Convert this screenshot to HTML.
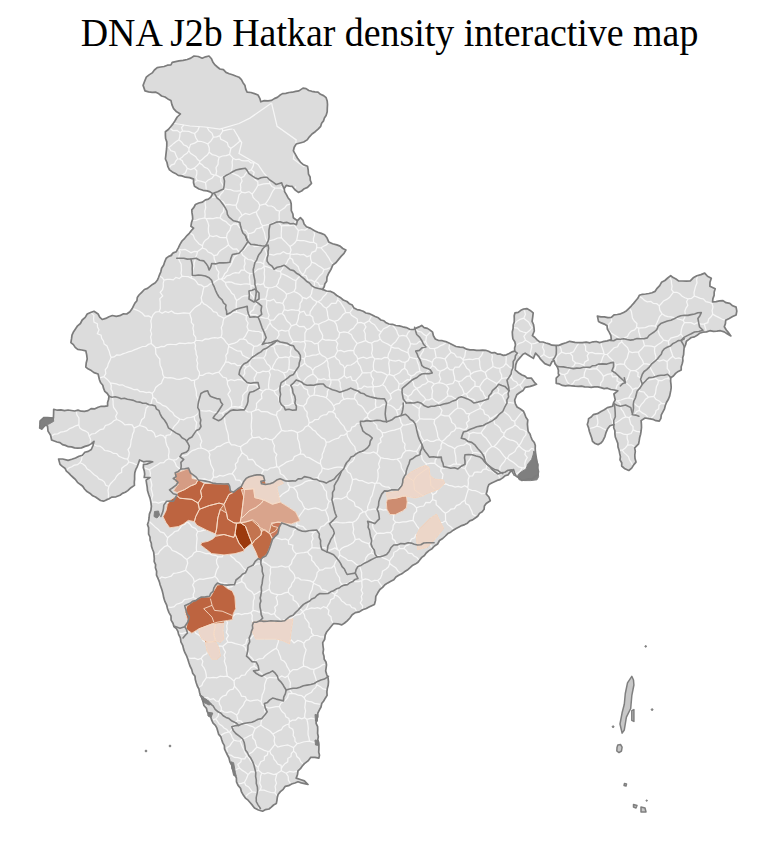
<!DOCTYPE html>
<html><head><meta charset="utf-8"><style>
html,body{margin:0;padding:0;background:#fff;}
body{width:771px;height:841px;overflow:hidden;position:relative;}
.t{position:absolute;left:4px;top:14px;width:771px;text-align:center;font-family:"Liberation Serif",serif;font-size:37.9px;color:#000;line-height:1;white-space:nowrap;transform:scaleY(1.03);transform-origin:50% 0;}
svg{position:absolute;left:0;top:0;}
</style></head><body>
<svg width="771" height="841" viewBox="0 0 771 841">
<path d="M143.1,85.4 144.6,81.3 146.3,77.2 149.1,74.9 152.2,72.9 154.4,70.0 157.2,67.7 160.6,67.0 164.1,66.5 167.4,65.2 170.9,65.0 172.2,62.3 175.6,61.6 179,60.9 183.1,60.4 187.2,59.5 190.8,58.1 194,56.0 198.3,56.5 202.2,58.2 205.5,56.8 209,56.0 211.5,58.8 213,62.3 215,64.9 217.4,67.0 219.9,69.0 223.4,69.7 226,72.4 229.2,73.7 232.5,74.7 235.7,76.0 239,77.2 241.4,79.6 243,82.7 245,85.6 245.7,89.1 247.1,92.2 250.9,92.5 254.5,93.6 258,95.0 259.8,98.3 260.8,101.8 264.3,100.6 268,100.8 271.6,100.4 274.3,98.6 277.3,97.4 279.8,95.3 282.5,93.6 285.8,93.3 289.1,92.5 292.4,92.2 295.6,91.4 298.9,90.9 303,88.1 306.1,88.6 308.8,90.5 311.8,91.3 314.9,91.9 318,92.2 320.5,94.3 323.6,95.6 326.1,97.7 327.2,101.0 327.5,104.5 327.3,108.2 327.2,111.8 326.1,115.4 324.4,117.9 323.5,120.9 321.6,123.3 320.7,126.3 318.1,129.1 315.2,131.7 312,134.0 309.4,136.8 307.1,139.9 303.7,142.0 300,143.0 296.2,144.0 294.2,147.2 293.4,150.8 295.4,154.4 297.4,158.0 300.4,162.1 303.6,164.8 307.5,166.2 308.2,170.2 308.5,174.2 310.1,177.0 310.3,180.3 311.5,183.3 307.5,187.4 304.3,188.7 301.6,191.0 298.4,192.4 294.9,189.8 292.3,186.4 289.3,186.1 286.3,185.4 284.2,188.4 284.6,191.6 286.3,194.4 288,197.7 290.3,200.5 291.2,203.8 291.3,207.2 291.3,210.6 292.9,214.0 293.3,217.7 297.4,220.7 300.4,217.7 303,220.4 304.1,224.0 306.5,226.8 310.7,228.4 314.5,230.8 317.8,232.2 321.3,233.4 324.6,234.8 327.1,238.1 328.7,241.9 332.6,243.7 336.8,244.9 340.1,246.1 342.8,248.5 345.9,250.0 344,253.4 341.3,256.1 338.8,259.1 336.1,262.5 332.7,265.2 331,269.4 328.7,273.2 327,277.1 326.7,281.3 324.9,283.8 324.2,286.8 322.6,289.4 326.5,291.0 330.7,291.4 334,293.1 336.8,295.5 340.2,297.4 343.3,300.0 346.9,301.5 349.3,303.7 352.3,305.1 354,308.1 357,309.6 360.2,310.2 363.2,311.3 365.9,313.0 369.1,313.6 372.2,315.0 375.1,316.5 378.3,317.8 380.9,320.0 383.9,320.8 386.2,322.8 389,324.0 392.5,324.3 395.8,325.5 399.3,325.9 402.7,326.8 406.3,327.6 409.7,329.3 413.5,329.5 416.2,328.1 419,326.9 421.7,325.4 424.1,327.6 427.4,328.4 430.1,330.1 432.6,332.2 433.4,335.8 435.3,339.0 438.6,340.5 442.3,340.7 445.7,341.6 449,343.1 452.5,344.8 456,346.5 459.9,347.2 463.4,347.4 466.6,349.2 470,349.8 473.5,349.9 476.5,350.3 479.5,350.3 482.6,350.1 485.6,350.3 488.5,351.3 491.3,352.8 494.6,352.6 497.4,354.1 500.5,354.2 503.4,355.4 506.4,354.8 509.1,353.4 511.8,351.9 514.7,351.1 514.6,348.0 515.5,345.0 514.8,341.8 512.9,338.9 512.5,335.6 512.3,332.0 513.1,328.5 513.2,325.0 514.2,322.0 514.3,318.9 514.2,315.8 515,312.8 518.2,312.3 520.8,310.3 523.6,309.0 526.8,308.6 530.2,310.4 533.2,312.8 532.7,317.1 532.1,321.4 533.5,324.5 534,327.7 534.3,331.0 532.4,335.6 534.9,337.5 537.1,339.8 539.6,341.8 542.9,342.0 545.9,343.0 549,343.9 552,345.2 555.2,345.4 558.9,345.4 562.4,343.9 566.1,342.8 569.7,341.3 575,342.3 578.7,342.7 582.4,342.7 586.2,342.1 589.9,342.8 593.1,341.8 596.3,341.5 599.6,342.6 602.8,341.7 607.1,340.9 611.3,339.6 610.9,335.7 609.2,332.1 607.4,329.1 607,325.7 604.3,324.1 601.3,322.9 598.5,321.4 597.4,316.1 600.9,316.9 604.4,316.8 607.9,317.6 611.3,317.3 614,314.9 617.3,314.5 620.6,313.8 623.6,312.4 626.6,310.7 629,308.3 631.4,305.8 633.6,303.4 635.7,300.8 637.8,298.3 639.3,295.3 642.4,294.3 645.6,294.0 648.9,293.5 652,292.7 655,291.4 657.1,288.3 659.7,285.6 661.5,282.3 664.9,280.5 667.7,278.0 670.7,275.7 673.2,277.6 676,279.0 678.5,280.9 682.4,281.0 686.4,281.1 690.3,280.9 693.2,277.8 696.9,275.7 700.9,274.6 704.7,273.1 707.5,276.3 711.3,278.3 710,282.2 709.9,286.2 715.2,288.8 714.2,292.0 714.1,295.4 712.9,298.6 712.6,301.9 716.1,301.6 719.5,300.9 723,300.6 726,302.7 729.8,303.3 732.7,305.8 736.1,307.1 736.8,311.1 736.1,315.0 732.6,316.6 729.2,318.5 725.7,320.2 725.4,323.6 724.3,326.8 726.3,330.0 728.7,332.9 730.9,335.9 727.5,334.0 724.2,331.9 720.4,330.7 716.9,331.1 713.4,331.4 709.9,330.7 706.5,331.9 702.9,332.2 699.5,333.3 697.1,335.3 694.5,336.9 691.3,337.5 688.9,339.4 686.4,341.2 685.6,344.7 684.1,348.0 683.8,351.6 683.6,354.7 682.7,357.7 682.9,360.8 682.2,363.8 681.2,366.8 681.2,369.9 678.2,371.4 675.6,373.4 673.4,376.0 670.7,377.8 670.6,381.1 671,384.4 671.2,387.6 670.7,390.9 669.7,395.9 668.4,399.2 666.6,402.2 665.3,405.5 664.5,408.9 662.9,411.9 661.3,414.8 660.9,418.3 659.3,421.2 655.9,420.7 652.8,419.3 648.9,418.7 645,418.0 641.1,420.6 641.4,424.1 641.5,427.5 641.1,431.0 640.6,434.2 639.7,437.4 639.2,440.7 638.6,443.9 634.7,447.8 635.3,451.3 634.8,455.0 635,458.6 636,462.1 633.7,464.9 631.7,468.1 628.8,470.5 624.9,468.8 621.7,466.0 621.7,462.8 620,459.9 620.4,456.6 619.7,453.5 619.1,450.4 618,447.0 617.8,443.4 616.5,440.0 615.3,437.0 614.9,433.9 614.9,430.7 613.7,427.7 613.9,424.5 610,425.8 607.6,428.8 606.1,432.3 604.9,436.6 602.9,440.7 600.9,443.1 598.3,444.6 595.1,443.5 592.5,441.3 591.7,438.0 590.6,434.9 589.4,431.5 588.6,427.9 587.3,424.5 588.2,421.6 588.6,418.6 591.2,417.0 593.2,414.7 597.4,413.7 601,411.5 604.3,409.8 607.4,407.6 612.6,406.3 613.5,402.9 615.2,399.8 613.9,394.0 617.8,390.8 614.3,390.0 610.7,389.5 607.4,388.2 604.1,388.6 600.9,387.6 597.8,386.9 594.5,386.9 591.2,387.3 588,387.0 584.7,386.8 581.5,386.1 578.3,386.3 575,386.2 571.9,385.8 568.7,385.4 565.5,385.8 562.4,385.4 559.4,383.9 556.2,383.3 556.2,378.1 559.3,375.0 558.3,374.0 558.4,370.3 557.3,366.7 555.1,363.9 554.1,360.5 552.1,361.5 550,365.7 544.8,363.6 540.7,359.4 538.6,356.3 535.5,353.2 533.4,358.4 529.2,355.8 525.1,353.2 523,354.2 519.4,358.4 517,361.2 515.8,364.6 515.2,369.8 518.4,372.7 522,375.0 524.9,376.1 527.2,378.1 531.3,378.1 534.4,382.3 536.5,384.3 533.4,385.4 530.3,386.4 525.1,387.4 523,390.6 519.8,392.5 516.8,394.7 514.7,400.0 515.3,403.7 517.1,407.0 520.4,409.0 523.5,411.3 524.8,414.2 525.9,417.3 527.8,419.9 527.4,424.2 527.8,428.5 528.2,431.6 530,434.1 531,437.0 532.2,440.0 534.3,442.5 535.3,445.6 535.2,448.8 535.4,452.0 535.9,455.2 536.4,458.4 536.6,461.7 537.9,464.8 537.4,468.2 538.5,471.3 538,474.9 534.8,476.4 532.5,479.0 528.8,478.8 525.3,479.9 521.7,480.4 519.2,478.0 516.2,476.3 514.6,473.0 513.5,469.5 510.3,471.8 508,474.9 505,475.8 502.7,477.9 500.1,479.6 497.1,480.4 494.4,481.8 491.7,483.0 489,484.4 487.7,487.5 487.2,490.8 486.2,494.0 488.9,497.0 490.3,500.8 486.2,503.5 484.4,506.0 484.1,509.3 482.2,511.7 479.5,513.4 477.7,516.2 475.2,518.0 472.6,519.9 469.7,520.9 467.4,523.2 464.7,524.6 461.7,525.6 459,527.0 456.1,528.5 453.3,530.2 450.7,532.2 447.8,533.6 445.4,536.0 442.7,538.5 439.5,540.5 437.6,544.0 434.5,546.0 432,548.7 428.9,550.6 426.2,553.0 424.4,555.5 421.8,557.4 419.9,559.8 418,562.2 415.3,564.1 412.3,565.6 409.8,567.9 407.3,570.1 404.4,571.8 401.8,573.8 398.7,575.2 395.9,577.0 393.8,579.8 390.8,581.3 387.8,582.9 384.9,584.8 382.6,587.4 379.9,589.5 377.8,592.8 375.8,596.3 375.5,600.4 374.4,604.4 371.7,605.7 369,607.1 366.3,608.5 362.6,609.7 359.3,611.9 355.4,612.6 352.2,614.8 349.9,618.0 347.2,620.8 344.6,623.0 341.8,624.9 337.8,623.8 333.6,623.5 331.3,626.2 329.1,629.0 326.8,631.7 325.2,635.2 324.7,639.2 322.7,642.6 323,646.0 323.5,649.4 323,652.9 324,656.2 324.2,659.3 326,662.0 326.5,665.0 325.7,670.9 326.7,674.5 328.1,678.0 328.5,681.8 328.2,685.2 327.3,688.6 326.9,691.9 327.1,695.4 325.3,698.2 323.7,701.0 321.7,703.6 321,707.0 319.3,710.1 317.8,713.2 317.8,716.8 316.2,719.9 316.1,723.3 317.6,726.6 317.7,730.1 317.6,733.5 318.3,736.6 317.8,739.8 318.6,742.8 318.9,746.0 318.9,749.1 318.7,752.1 319.5,755.2 318.9,758.2 314.9,757.4 310.8,757.3 308,760.9 304.4,763.6 302.3,766.0 300.4,768.7 298,770.9 297.5,774.6 296.2,778.1 300.3,779.5 304.4,780.9 308,784.5 304.6,783.7 301.3,782.9 298,781.8 294.9,783.0 291.6,784.0 288.6,785.7 285.3,786.3 283.2,789.3 280.4,791.6 278.1,794.5 277.3,797.5 276.9,800.6 276.3,803.6 273.6,805.0 271.3,807.1 269,809.0 265.6,809.6 262.6,811.2 258.4,810.0 254.5,808.1 252.5,805.4 250.3,802.8 248.1,800.2 245.4,798.1 243.3,795.1 241.5,791.9 240.5,788.3 238.1,785.4 236.5,781.9 236.4,777.9 234.5,774.5 234.2,771.3 232.2,768.6 231.8,765.4 229.9,761.9 229,758.0 227.2,754.5 225.8,751.7 224.5,748.9 224.4,745.6 222.8,742.9 221.8,740.0 220.9,736.9 218.7,734.4 217.8,731.3 216.9,728.2 215.4,725.4 213.1,723.1 211.7,720.2 210.7,717.1 209.4,714.2 207.2,711.8 206.5,708.3 203.9,705.5 203.1,702.0 202.1,698.5 200.4,695.4 199.5,692.2 198.9,689.0 197.3,686.0 196.2,682.8 195.3,679.6 195,676.3 192.7,673.2 191.7,669.4 190,666.0 188.9,662.7 187.9,659.4 186.7,656.2 184.9,652.7 183.6,649.1 182.7,645.3 180.9,641.8 180.4,637.9 178.6,634.4 177.9,631.3 176.4,628.7 173.9,626.5 173.1,623.5 171.1,620.1 171,616.0 169,612.6 167.6,609.0 166.7,605.2 165,601.7 163.8,598.1 163.1,594.4 162.2,590.8 161.2,587.7 160.1,584.7 159.3,581.6 158.1,578.6 156.5,575.1 156.6,571.3 155.4,567.7 155.6,564.6 154.2,561.6 154.3,558.5 154,555.4 153.7,552.3 152.5,549.3 151.5,546.3 151.3,543.2 150.1,540.2 150,537.0 148.6,534.1 148.6,530.9 148.6,527.6 147.5,524.6 148.6,521.2 149.1,517.7 149.4,514.1 150.9,510.3 151.4,506.3 150.9,502.3 150.1,498.4 148.7,494.5 147.5,490.6 147.2,487.1 146.6,483.6 146.1,480.1 150,477.5 144.2,477.5 144.7,474.2 144.3,470.9 143.3,467.7 143.5,464.4 146.7,464.1 149.7,463.0 152.7,461.8 149.6,461.4 146.6,461.3 143.5,461.8 139.6,459.9 138.4,463.5 137,467.1 135.7,469.7 134.8,472.8 134.6,475.9 134.6,479.1 134.3,482.2 134.4,485.4 130.9,487.7 127.8,490.6 125.3,492.3 122.4,493.4 120,495.2 116,496.8 111.7,497.1 109.1,498.7 106.3,499.9 103.5,501.2 100.5,500.5 98,498.7 95.5,497.0 92.7,495.8 90.1,493.4 87,491.6 84.5,489.0 82.7,486.2 80.1,484.3 77.5,482.3 75.6,479.7 73.2,477.5 70.9,475.3 68.8,473.1 66.4,471.1 64.9,468.2 62.3,466.4 60,464.4 58.6,459.0 62.7,459.0 68.1,460.4 71.8,459.3 75.5,458.0 79,456.3 82.4,455.2 84.8,452.3 88.3,451.4 91.3,449.5 93,445.5 94,441.3 91.5,443.6 88.6,445.4 85,446.4 81.5,447.9 77.7,448.1 74.5,447.9 71.5,446.9 68.3,446.7 65.4,445.4 62.5,444.6 60,442.6 57,442.0 51.6,440.0 50.6,435.3 48,431.1 47.5,425.9 45.4,424.9 41.7,429.1 39.7,428.0 40,424.4 40.2,420.8 44,417.5 47.5,417.6 53.4,418.2 53.6,413.8 53.7,409.3 57.3,410.2 60.9,409.8 64.5,410.6 68.1,410.0 71.4,410.5 74.6,411.0 78,410.1 81.2,411.2 84.5,411.3 88,410.6 91.1,408.6 94.9,408.8 98.1,407.2 101.2,406.3 104.4,406.3 107.6,405.9 107.6,402.6 108.5,399.5 109,396.3 107.3,393.5 104.8,391.3 103.5,388.2 102.8,385.2 100.7,382.8 99.5,380.0 98.8,377.0 98.1,374.0 94,372.6 91.3,370.6 88.4,369.1 85.8,367.1 86.2,363.0 87.2,359.0 86.7,354.9 85.8,350.8 81.8,350.0 77.7,349.4 75.2,347.4 73.4,344.6 70.9,342.6 71.5,338.9 72,335.2 73.6,331.7 75.6,328.7 77.6,325.8 80.4,323.5 82.2,320.0 85.2,317.4 87.2,314.0 90.5,312.5 94,311.3 98.1,314.0 99.7,317.1 102.2,319.5 105.7,318.4 109,316.7 112.4,315.5 116.2,316.3 119.7,315.7 123.1,313.9 126.7,314.0 129.9,311.7 132.2,308.6 133.5,305.8 134.9,303.1 136.9,300.8 137.3,297.5 139,295.0 141.7,292.3 144.4,289.5 147.5,288.4 150,286.4 152.5,284.4 155.3,282.7 157.3,280.3 158.5,277.5 159.6,274.6 160.8,271.8 161.6,268.2 163.7,265.1 164.8,261.6 166.2,258.2 168.7,256.4 171.6,255.4 170.9,255.3 173.2,252.9 176.3,251.7 178.2,248.1 180,244.4 182,241.0 184.7,238.3 187.2,235.3 189.5,233.1 191.4,230.5 193.6,228.1 190.9,226.3 191.5,222.6 192.7,219.0 192.5,216.0 192,212.9 191.8,209.9 193.9,207.4 195.4,204.5 198.8,203.0 202.4,202.1 205.4,199.9 208.4,199.2 210.8,197.2 212.7,193.6 210.1,191.9 207.2,190.9 203,190.3 199,189.0 194.5,186.3 193.5,182.8 193.6,179.1 189.6,177.6 185.4,177.2 181.9,175.9 178.2,175.4 175.4,173.4 172.3,171.9 169.5,169.9 167.8,166.4 167,162.5 165.4,159.0 165.8,155.6 166.2,152.2 166.6,148.7 166.8,145.3 166.8,141.9 165.6,138.5 165.4,135.1 165.4,131.7 168.3,129.5 170.7,126.7 173,123.9 175,120.8 177.2,117.0 180.4,114.0 176.6,111.8 173.6,108.6 171.9,104.6 170.9,100.4 167.8,98.9 165,97.0 161.6,96.0 158.9,93.8 155.9,92.2 152.2,92.4 148.6,91.9 145,90.9Z" fill="#dcdcdc"/><path d="M222.2,129.0 222.8,131.0M207.0,127.3 209.0,130.6 212.1,133.3 213.4,137.2M222.8,131.0 219.8,135.6M219.8,135.6 216.7,136.9 213.4,137.2M232.6,129.0 229.2,129.4 226.0,130.1 222.8,131.0M51.6,435.9 54.4,434.2 57.7,433.8 60.6,432.2 63.9,431.7 67.0,430.7 69.7,428.6 72.8,427.4 75.6,425.8 78.8,424.9M76.4,411.5 76.9,414.8 78.9,418.0 79.0,421.4 78.8,424.9M213.0,719.9 215.7,718.8M220.7,735.4 224.5,733.2 228.7,732.0M228.7,732.0 226.8,729.5 224.0,728.0 221.9,725.7 219.2,724.0 217.5,721.3 215.7,718.8M632.4,465.1 631.2,462.3 629.4,459.8 628.5,456.8 626.4,454.6 624.1,452.6 622.2,450.2M634.8,446.6 631.4,444.8 627.6,445.2M622.2,450.2 625.3,448.0 627.6,445.2M194.6,133.5 191.6,132.6 188.7,131.3 185.6,131.2 182.6,130.8M194.6,133.5 195.7,137.5 197.9,141.1M197.9,141.1 194.6,143.1 190.6,144.4 189.0,148.6M189.0,148.6 186.7,146.1 183.6,144.7 181.5,141.9 178.9,139.8M178.9,139.8 179.8,136.3 180.1,132.7M180.1,132.7 182.6,130.8M183.8,125.0 181.6,127.6 182.6,130.8M199.4,126.6 197.7,130.6 194.6,133.5M207.8,144.0 204.7,142.5 201.4,141.5 197.9,141.1M207.8,144.0 211.0,140.9 213.4,137.2M169.7,128.0 172.8,130.5 177.0,130.3 180.1,132.7M167.4,147.5 168.9,147.6M168.9,147.6 171.4,145.6 173.7,143.4 176.2,141.4 178.9,139.8M234.1,770.5 239.5,768.0M238.4,783.6 241.5,783.4 244.5,782.3M239.5,768.0 242.3,770.4 245.4,772.2 248.1,774.6M244.5,782.3 246.5,778.6 248.1,774.6M245.5,796.6 248.5,793.7 252.3,791.8M244.5,782.3 245.7,785.3 248.6,786.9 250.5,789.3 252.3,791.8M258.6,808.8 258.5,805.5 256.7,802.5 256.2,799.2 257.0,795.8 256.6,792.5M256.6,792.5 252.3,791.8M665.6,403.9 661.6,403.3M661.6,403.3 658.9,405.2 658.7,408.8 656.1,410.6 655.3,413.7 653.3,416.0 651.1,418.2M627.6,445.2 628.2,441.7 627.1,438.2 627.2,434.7M640.1,431.8 636.5,431.3 633.1,429.9M627.2,434.7 631.1,433.5 633.1,429.9M177.7,158.8 179.5,159.0M168.9,147.6 170.8,150.7 174.8,152.0 176.1,155.6 177.7,158.8M189.0,148.6 188.9,150.7M179.5,159.0 182.1,157.2 184.3,154.9 187.0,153.3 188.9,150.7M209.2,152.2 207.3,155.0 204.7,157.0 202.4,159.2 199.8,161.2M209.2,152.2 209.3,148.0 207.8,144.0M188.9,150.7 190.5,153.4 193.2,155.0 195.8,156.7 197.4,159.3 199.8,161.2M622.2,450.2 619.9,450.2M151.2,343.5 148.3,344.4 145.8,346.3 142.6,346.5 139.8,347.7 137.0,348.8 134.2,349.9 131.4,351.2 128.4,351.9 125.6,353.0 122.7,353.9 120.0,355.2 116.7,355.0 114.1,356.9 111.1,357.4M151.2,343.5 151.3,340.3 150.6,337.0 151.6,333.9 150.5,330.6 151.4,327.4 151.3,324.2 150.8,321.0 151.7,317.8M151.7,317.8 148.7,315.9 144.8,316.0 142.3,313.3 139.4,311.3 136.3,309.9 133.0,308.7M111.1,357.4 110.0,354.6 109.3,351.6 108.1,348.8 107.0,346.0 104.1,344.0 103.5,340.9 101.7,338.4 101.1,335.3 97.4,333.7 99.0,329.7 97.5,327.0 97.4,323.8 94.0,322.0 93.6,318.8 93.9,315.4 91.5,313.1M103.8,376.6 105.8,373.7 105.3,369.8 107.5,367.0 108.3,363.7 109.9,360.6 111.1,357.4M99.8,377.8 103.8,376.6M103.8,376.6 107.3,379.4 110.3,382.8M110.3,382.8 113.3,383.3 116.4,383.8 119.3,385.0 122.5,384.8 125.3,386.5 128.3,387.3 131.2,388.4 134.0,389.7 137.3,389.5 139.9,391.6 143.1,391.6 146.1,392.6 149.4,392.1 152.3,393.3M155.3,347.3 155.7,350.5 155.8,353.7 157.5,356.4 159.8,359.0 159.8,362.3 160.2,365.4 161.5,368.2 162.5,371.2 162.7,374.4 164.2,377.2M155.3,347.3 151.2,343.5M152.3,393.3 154.4,390.8 155.7,387.5 158.3,385.3 161.4,383.4 162.6,380.1 164.2,377.2M179.5,159.0 182.3,160.7 183.4,163.7 185.8,165.7 187.2,168.4M187.2,168.4 190.8,169.6 194.3,168.1M199.8,161.2 199.5,163.1M194.3,168.1 197.0,165.7 199.5,163.1M239.5,768.0 237.8,764.5 241.0,761.8 241.2,758.6M241.2,758.6 237.9,757.6 234.3,757.4 231.4,755.4 228.1,754.5M241.2,758.6 244.8,758.8 246.7,755.6M248.1,774.6 250.9,771.7 255.1,771.9 258.4,770.3M258.4,770.3 258.1,767.4M258.1,767.4 255.7,765.2 252.9,763.3 250.6,760.9 248.9,758.0 246.7,755.6M277.0,773.6 276.1,776.7 275.4,779.9 276.5,783.3 275.1,786.4 275.7,789.8 274.9,792.9M277.0,773.6 273.9,774.6 270.9,773.6 267.8,772.7 264.7,773.8 261.7,773.1M261.7,773.1 260.5,776.4 260.4,779.8 259.7,783.1 261.3,786.7 260.3,790.0M274.9,792.9 271.2,792.5 267.6,791.5 264.1,790.1 260.3,790.0M256.6,792.5 260.3,790.0M258.4,770.3 261.7,773.1M277.1,795.6 274.9,792.9M669.9,379.3 668.0,378.5M653.9,396.4 655.5,393.4 655.9,390.0 656.4,386.7 657.9,383.7 658.5,380.4M661.6,403.3 659.1,400.9 655.9,399.3 653.9,396.4M668.0,378.5 664.8,379.0 661.9,380.7 658.5,380.4M672.8,356.3 671.9,353.3 670.8,350.3 670.1,347.2 668.7,344.3 668.4,341.1M672.8,356.3 675.4,358.6 679.0,357.8 681.9,359.0M686.2,340.4 683.3,337.4 680.9,334.0M668.4,341.1 670.8,338.1 674.4,337.1 678.0,336.1 680.9,334.0M668.0,378.5 668.9,375.1 669.5,371.6 667.2,368.4 667.3,365.0 667.1,361.6M667.1,361.6 669.8,358.8 672.8,356.3M713.0,302.7 712.1,303.6M697.4,276.4 696.6,279.6 697.0,283.0 695.6,286.2 694.8,289.4 694.0,292.6 694.3,296.0M694.3,296.0 697.3,297.2 700.3,298.4 703.5,299.0 705.9,301.6 709.1,302.3 712.1,303.6M706.2,330.8 705.2,327.4 704.2,323.9M680.9,334.0 681.3,330.0 682.4,326.2 684.4,322.7M684.4,322.7 687.8,322.7 691.1,322.6 694.3,324.2 697.7,322.4 700.9,324.1 704.2,323.9M724.9,320.2 721.7,319.0 718.7,317.4 715.6,315.9 712.7,314.1M704.2,323.9 707.8,322.7 708.6,319.1 711.0,316.8 712.7,314.1M712.7,314.1 712.1,310.6 713.0,307.0 712.1,303.6M617.2,400.9 621.0,400.0 624.8,398.6 628.7,397.8M617.2,400.9 619.8,402.9 620.8,405.8 621.1,409.1 623.1,411.4 624.4,414.2 625.8,416.9M628.7,397.8 632.8,398.7 633.9,402.8 636.3,405.5 639.4,407.6M625.8,416.9 629.0,417.7M629.0,417.7 631.5,415.7 634.6,414.7 636.3,411.7 639.3,410.4M639.4,407.6 639.3,410.4M633.1,429.9 633.0,426.5 630.6,423.9 629.9,420.8 629.0,417.7M648.3,417.7 645.7,414.8 642.3,412.9 639.3,410.4M648.5,397.2 653.9,396.4M648.5,397.2 645.5,399.2 643.6,402.1 641.2,404.6 639.4,407.6M290.6,783.6 288.4,780.4 288.2,776.4 286.1,773.2M297.1,771.2 293.5,772.2 289.5,771.4 286.1,773.2M277.0,773.6 281.3,770.8M286.1,773.2 281.3,770.8M627.2,434.7 623.4,434.1 619.9,432.5 616.0,432.5M625.8,416.9 622.5,418.2 619.8,420.3 616.8,422.2 613.7,423.7M615.8,400.5 617.2,400.9M612.8,424.0 612.3,420.7 610.7,417.8 610.4,414.4 608.7,411.6 607.3,408.6M127.6,459.2 124.5,458.6 121.7,457.5 118.9,456.2 116.7,453.5 113.4,453.4 110.8,451.7 107.8,450.8 104.6,450.5 102.4,447.9 99.8,446.1 96.5,446.0 93.8,444.5M90.3,443.1 90.0,442.9M127.6,459.2 128.8,456.2 129.3,453.0 128.0,449.5 130.2,446.7 130.8,443.6 131.1,440.4 132.1,437.4 132.6,434.2 134.0,431.3 134.1,428.1M116.8,419.5 113.8,420.8 111.4,423.1 108.6,424.6 105.4,425.5 103.6,428.9 100.3,429.6 97.6,431.5 95.1,433.5 91.6,434.0 89.1,436.1M116.8,419.5 119.7,420.8 122.5,422.5 124.9,424.9 128.7,424.4 132.1,424.9 134.1,428.1M89.1,436.1 90.6,439.4 90.0,442.9M110.3,382.8 111.3,385.7 111.0,388.9 112.4,391.8 112.9,394.9 112.6,398.1 113.1,401.2 113.1,404.4 113.6,407.4 115.6,410.2 117.3,413.1 115.6,416.5 116.8,419.5M78.8,424.9 79.9,428.1 82.4,429.9 85.6,431.1 88.2,432.8 89.1,436.1M66.6,469.9 69.0,467.9 71.8,466.7 74.3,465.1 77.5,464.7 79.9,462.7M79.9,462.7 81.5,460.0 82.0,456.7 84.2,454.3M89.7,443.6 90.0,442.9M79.9,462.7 82.9,464.0 85.3,466.0 87.0,468.8 89.7,470.4 92.0,472.6 94.2,474.8 97.0,476.4 98.9,478.9 102.0,480.1 104.4,482.1 105.8,485.3 108.9,486.5M127.6,459.2 128.9,462.0M128.9,462.0 127.0,464.5 124.2,466.3 121.7,468.4 121.6,472.3 118.6,474.0 116.5,476.3 115.0,479.2 112.7,481.4 110.5,483.7 108.9,486.5M108.9,486.5 108.0,490.3 108.5,494.1 108.3,497.9M154.6,554.5 158.1,553.9 159.9,551.0 162.2,548.8 164.5,546.6 167.6,545.4M167.6,545.4 166.9,541.6 167.7,537.8M167.7,537.8 165.7,535.4 163.8,532.8 160.4,531.9 158.3,529.5 155.8,527.6 153.5,525.4 151.2,523.2 149.0,521.1M238.4,137.1 239.8,141.3M219.8,135.6 220.8,139.2 224.2,140.7 227.3,142.6 228.3,146.1 230.8,148.5M230.8,148.5 233.9,146.2 236.9,143.8 239.8,141.3M209.2,152.2 212.2,154.6 215.9,155.5 219.1,157.3M230.8,148.5 229.6,154.3M219.1,157.3 222.5,156.0 226.2,155.6 229.6,154.3M229.6,154.3 233.0,158.2M233.0,158.2 235.9,159.7 239.1,159.2 241.9,160.7 245.0,160.9 248.2,160.6 250.8,162.8 254.0,162.7M239.8,141.3 241.0,141.4M254.5,162.4 254.0,162.7M199.5,163.1 202.2,164.8 204.4,167.2 207.5,168.4 209.6,170.9 211.2,174.1 214.5,175.1M219.1,157.3 218.2,160.8 218.1,164.4 216.0,167.7 216.6,171.4 215.8,174.9M214.5,175.1 215.8,174.9M188.2,658.1 191.4,658.3 194.7,658.1 197.9,659.6 201.1,658.3M201.1,658.3 202.8,661.3 201.9,665.0 204.0,667.9 205.4,670.9 206.1,674.2 206.4,677.5M198.9,687.0 201.8,685.5 202.9,682.5 204.7,680.1 206.4,677.5M228.7,732.0 229.4,732.1M227.1,752.1 226.8,747.9 229.9,745.7 231.7,742.8 233.9,740.1M229.4,732.1 231.2,734.6 232.2,737.5 233.9,740.1M246.7,755.6 246.7,755.5M246.7,755.5 245.0,752.7 244.0,749.8 242.4,747.0 241.2,744.1 240.1,741.1M233.9,740.1 236.9,741.0 240.1,741.1M641.4,381.1 640.3,384.7 638.5,388.0M641.4,381.1 640.7,378.0 637.8,376.2 638.1,372.5 635.2,370.7M625.0,381.5 627.4,379.3 628.4,376.3 629.3,373.3 630.6,370.5M625.0,381.5 627.7,384.1 630.5,386.6 632.7,389.6M632.7,389.6 635.4,388.2 638.5,388.0M635.2,370.7 630.6,370.5M658.5,380.4 655.7,378.5M655.7,378.5 652.2,379.4 648.6,380.0 645.1,381.0 641.4,381.1M648.5,397.2 646.1,394.8 644.0,392.0 639.9,391.4 638.5,388.0M619.6,382.6 625.0,381.5M615.8,389.5 617.0,385.6 619.6,382.6M628.7,397.8 630.2,395.1 632.0,392.6 632.7,389.6M667.1,361.6 663.4,359.8 659.2,361.1 655.5,359.5M655.7,378.5 654.4,375.0 652.4,371.8 650.7,368.5 650.0,364.7M655.5,359.5 652.7,362.1 650.0,364.7M663.7,340.1 661.0,342.8 657.7,344.7 654.8,347.1M668.4,341.1 663.7,340.1M655.5,359.5 655.9,356.4 654.9,353.3 654.5,350.3 654.8,347.1M635.2,370.7 638.3,368.7 641.0,366.2 643.7,363.8M643.7,363.8 646.9,363.9 650.0,364.7M673.5,292.2 676.9,292.3 679.7,293.8 682.1,296.3 684.9,297.8 687.9,298.9M673.5,292.2 671.4,294.8 669.4,297.5 666.7,299.4 663.6,300.9 661.4,303.5 659.2,305.9M687.9,298.9 686.6,301.8 687.8,305.3 686.0,308.1 684.9,311.1 685.2,314.4 684.8,317.5 683.2,320.4M683.2,320.4 680.2,319.5 677.1,318.6 674.1,317.7 671.0,316.9 667.8,316.6 664.8,315.6 662.1,313.8M659.2,305.9 659.8,310.2 662.1,313.8M694.3,296.0 691.5,298.4 687.9,298.9M684.4,322.7 683.2,320.4M663.7,340.1 661.6,337.5 659.5,335.0 658.5,331.8 657.4,328.7 655.3,326.2M655.3,326.2 656.9,323.1 658.3,319.8 659.6,316.5 662.1,313.8M636.6,327.3 638.8,328.2M636.6,327.3 634.6,329.9 631.4,331.1 629.1,333.4 627.5,336.5 624.4,337.8 621.8,339.7M638.8,328.2 638.6,331.5 639.6,334.4 640.2,337.4 642.9,339.7 643.7,342.6 644.5,345.6M621.8,339.7 621.8,341.8M621.8,341.8 624.5,344.8 627.5,347.5 629.0,351.3M629.0,351.3 632.1,352.5 635.3,352.2 638.5,352.0M638.5,352.0 641.7,349.0 644.5,345.6M629.6,308.4 631.3,311.3 631.9,314.7 632.4,318.1 634.3,321.0 636.9,323.6 636.6,327.3M639.4,296.5 642.1,298.1 644.5,300.4 647.2,301.9 650.9,301.5 653.4,303.4 656.8,303.7 659.2,305.9M655.3,326.2 651.8,325.7 648.6,326.2 645.4,327.6 642.1,327.8 638.8,328.2M608.6,328.0 608.7,324.2 611.7,321.2 611.2,317.4M609.4,330.3 611.3,333.0 613.9,334.8 616.5,336.4 619.1,338.1 621.8,339.7M654.8,347.1 651.4,346.1 648.0,345.8 644.5,345.6M624.3,364.4 627.1,367.9 630.6,370.5M624.3,364.4 625.1,361.0 627.2,358.0 628.0,354.7 629.0,351.3M643.7,363.8 642.7,360.7 640.9,358.0 639.2,355.2 638.5,352.0M624.3,364.4 620.1,364.0 616.0,365.0M619.6,382.6 617.0,380.9 617.4,376.5 612.5,376.9 611.5,373.7M611.5,373.7 614.1,371.4 615.3,368.3 616.0,365.0M621.8,341.8 619.1,343.7 617.6,346.8 614.1,347.7 611.9,350.0 609.6,352.4 607.2,354.5M616.0,365.0 614.1,362.2 611.8,359.6 609.3,357.3 607.2,354.5M128.9,462.0 133.0,463.1 136.9,465.0M144.5,467.9 149.5,469.8M151.6,502.7 152.2,502.1M149.5,469.8 150.5,473.2 150.0,476.7M150.2,478.3 151.2,481.7 151.9,485.0 151.1,488.5 152.0,491.8 152.8,495.2 151.7,498.7 152.2,502.1M165.6,438.9 166.1,435.5 170.3,434.7 171.6,431.9 172.7,429.0 174.2,426.3 176.4,424.2 178.3,421.8 179.7,419.0M165.6,438.9 163.5,435.9 160.3,435.0 155.6,437.0 154.1,432.8 151.5,430.7 148.0,430.4 145.8,427.5 142.8,426.3 139.5,425.5M179.7,419.0 177.0,417.3 174.4,415.6 172.8,412.6 170.2,410.8 168.1,408.5 165.8,406.4 162.6,405.4 160.2,403.3 157.1,402.2 155.7,399.0 152.9,397.4M139.5,425.5 140.6,422.6 141.7,419.7 144.4,417.5 144.8,414.3 145.6,411.2 146.1,408.0 148.6,405.7 151.2,403.5 151.8,400.3 152.9,397.4M134.1,428.1 139.5,425.5M149.5,469.8 152.1,468.0 154.8,466.2 157.6,464.8 160.2,462.8 163.8,462.7 166.0,460.2 168.9,458.8M168.9,458.8 168.5,455.4 169.1,451.9 168.7,448.6 166.9,445.5 165.9,442.2 165.6,438.9M152.3,393.3 152.9,397.4M179.7,419.0 183.6,419.8 187.0,417.8 190.7,417.5 194.3,416.4M173.2,460.1 168.9,458.8M173.2,460.1 176.3,459.6 178.7,457.4 181.1,455.5 184.6,455.8 187.5,454.8 189.8,452.4 192.3,450.6 195.3,449.7 198.0,448.3 201.2,448.0M194.3,416.4 194.6,419.7 196.7,422.5 196.0,426.0 195.8,429.3 197.4,432.3 199.5,435.1 200.6,438.2 201.8,441.2 200.4,444.8 201.2,448.0M211.3,480.3 211.3,483.8 210.7,487.4 211.7,490.8 214.2,494.2 212.4,497.8M211.3,480.3 208.0,480.3 204.7,479.0 201.3,479.2 198.0,479.1 194.7,478.5 191.3,478.2 188.0,477.3 184.7,477.3M212.4,497.8 209.4,499.1 206.2,500.2 203.6,502.5 200.5,503.6 196.9,503.6 194.2,505.6 191.7,508.3 188.1,508.3 185.0,509.6M184.7,477.3 182.6,479.9 183.4,483.2 182.8,486.2 180.9,488.8 180.1,491.8 180.4,495.0 179.4,497.8 178.7,500.8 177.9,503.7M185.0,509.6 182.4,507.9 180.6,505.2 177.9,503.7M213.5,476.9 211.3,480.3M213.5,476.9 213.0,473.7 213.7,470.2 212.2,467.2 210.7,464.1 210.3,460.9 209.2,457.8 209.9,454.3 208.3,451.3M201.2,448.0 204.9,449.2 208.3,451.3M173.2,460.1 175.2,462.8 176.4,466.2 179.3,468.4 181.1,471.4 182.5,474.6 184.7,477.3M225.2,509.0 222.0,507.5 221.0,503.4 218.1,501.6 214.2,500.8 212.4,497.8M216.4,527.2 218.6,524.5 219.0,521.0 221.1,518.2 221.9,514.9 223.9,512.1 225.2,509.0M197.7,531.5 200.9,531.2 204.0,530.1 207.1,529.5 210.3,529.1 213.1,527.2 216.4,527.2M197.7,531.5 195.6,528.4 192.0,526.9 189.8,523.9 186.9,521.6M186.9,521.6 185.0,518.8 186.6,515.5 186.2,512.5 185.0,509.6M152.2,502.1 155.4,502.2 158.6,503.0 161.9,501.9 165.1,501.6 168.2,503.3 171.5,502.9 174.6,504.5 177.9,503.7M186.9,521.6 184.9,524.2 181.8,525.3 180.1,528.2 178.1,530.7 174.7,531.5 172.5,533.7 170.0,535.7 167.7,537.8M231.5,508.6 228.3,508.7 225.2,509.0M231.5,508.6 233.5,506.3 235.5,503.8 237.7,501.5 240.5,499.9 242.5,497.4 245.1,495.6 247.4,493.5 249.5,491.1M232.2,473.7 229.0,473.8 226.0,475.0 223.0,476.2 219.7,475.4 216.8,477.1 213.5,476.9M232.2,473.7 234.4,476.3 235.8,479.8 240.1,480.3 242.1,483.2 244.0,486.1 246.7,488.3 249.4,490.4M249.5,491.1 249.4,490.4M380.7,457.7 376.8,453.6M380.7,457.7 383.9,458.3 387.2,458.6 390.4,459.3 393.6,459.5 397.0,459.0M376.8,453.6 377.7,450.6 378.0,447.5 378.3,444.4 381.1,442.0 380.3,438.6 382.8,436.0 382.1,432.7M397.0,459.0 401.3,457.8 402.9,453.7 405.7,450.9M405.7,450.9 404.5,447.7 405.1,444.2 402.8,441.3 402.4,437.9 402.0,434.6 401.2,431.4 400.5,428.1M382.1,432.7 385.3,432.6 388.3,431.5 391.3,430.6 394.5,430.2 397.5,429.2 400.5,428.1M424.0,440.8 422.0,438.1 420.5,435.2 420.0,431.7 417.7,429.1 416.3,426.1 414.9,423.2M416.6,451.3 418.3,448.5 419.9,445.7 421.5,442.9 424.0,440.8M416.6,451.3 413.0,451.2 409.4,450.5 405.7,450.9M402.8,425.2 405.9,424.8 408.9,424.2 411.8,423.2 414.9,423.2M402.8,425.2 400.5,428.1M673.5,292.2 671.5,289.6 672.1,286.3 671.5,283.3 671.3,280.2 669.7,277.4M280.8,188.0 281.5,186.0M280.8,188.0 284.1,190.7M294.9,187.8 295.9,186.5M252.1,194.1 253.1,197.5 255.5,199.9 258.2,202.1 259.7,205.3M252.1,194.1 254.3,191.4 256.2,188.4 257.9,185.3M257.9,185.3 260.9,184.6 263.8,183.9 266.9,183.6 269.9,183.7M265.4,203.9 259.7,205.3M265.4,203.9 267.2,201.4 268.9,198.8 270.4,196.1 271.6,193.2 273.1,190.5 275.1,188.0M275.1,188.0 271.9,186.5 269.9,183.7M251.2,169.7 253.0,166.4 254.0,162.7M251.2,169.7 254.2,172.2 253.2,176.3 254.7,179.3 257.8,181.7 257.9,185.3M269.5,179.5 269.9,183.7M280.8,188.0 275.1,188.0M233.0,158.2 232.1,161.8 232.4,165.7 231.9,169.4 230.6,172.9M251.2,169.7 248.2,171.1 245.8,173.3 244.0,176.2 241.1,177.9M241.1,177.9 237.9,175.6 234.3,174.2 230.6,172.9M215.8,174.9 220.8,177.6M230.6,172.9 227.7,175.3 224.0,176.0 220.8,177.6M390.3,325.1 387.2,327.2 383.6,328.7 381.2,331.8M381.2,331.8 378.3,330.2 376.4,327.3 374.5,324.7 371.5,323.0 369.1,320.8M371.5,315.8 369.1,320.8M381.2,331.8 379.1,335.2 380.1,338.9M371.8,343.1 374.4,341.3 377.6,340.9 380.1,338.9M365.6,340.6 368.5,342.4 371.8,343.1M365.6,340.6 365.2,337.2 365.3,333.8 363.9,330.5 366.0,326.9 364.0,323.6M369.1,320.8 364.0,323.6M364.0,323.6 360.9,322.5 357.5,322.8M357.1,343.5 361.4,342.2 365.6,340.6M357.1,343.5 355.0,340.8 352.7,338.0 351.4,334.6 348.2,332.7M348.2,332.7 350.4,330.1 353.4,328.3 355.3,325.5 357.5,322.8M353.4,307.7 349.9,312.5M357.5,322.8 357.3,319.0 354.4,317.1 351.5,315.3 349.9,312.5M151.7,317.8 153.2,314.6 155.5,312.1 159.2,311.5M159.6,276.0 162.3,277.6 164.0,280.1M159.2,311.5 160.3,308.5 160.2,305.3 160.2,302.1 159.8,298.8 162.7,296.0 160.2,292.4 162.5,289.6 163.3,286.5 163.2,283.2 164.0,280.1M164.2,377.2 167.2,377.9 170.3,377.6 173.3,378.2 176.3,379.1 179.4,379.4 182.5,378.7 185.7,377.7 188.7,378.5 191.5,380.5 194.6,380.2M194.3,416.4 197.6,413.9 199.9,410.5M194.6,380.2 194.4,383.3 194.9,386.4 195.8,389.3 196.4,392.4 196.3,395.5 197.6,398.4 198.7,401.3 199.0,404.4 198.4,407.7 199.9,410.5M229.2,442.0 226.0,442.8 223.1,444.2 220.3,446.2 217.0,446.7 214.5,449.0 211.5,450.4 208.3,451.3M229.2,442.0 228.5,438.8 228.3,435.4 227.6,432.2 226.4,429.1 225.9,425.8 224.9,422.7 224.8,419.3 223.8,416.1 222.3,413.1M199.9,410.5 203.1,410.9 206.4,411.0 209.6,410.7 212.7,412.0 215.9,412.3 219.1,412.8 222.3,413.1M246.6,699.7 244.5,702.0 243.5,705.0 241.5,707.3 239.4,709.6 238.6,712.7 236.7,715.1M246.6,699.7 245.5,696.7 241.5,696.1 240.3,693.2 238.5,690.7 236.5,688.5 234.5,686.1M234.5,686.1 233.1,689.1 229.6,690.0 227.4,692.2 226.0,695.2 222.6,696.2 220.4,698.4 218.9,701.4M236.7,715.1 233.9,713.2 231.0,711.7 227.4,712.3 224.1,712.0 221.3,710.3M221.3,710.3 221.3,707.1 219.6,704.4 218.9,701.4M237.9,720.4 234.6,722.4 234.0,726.5 231.8,729.4 229.4,732.1M215.7,718.8 218.0,716.3 218.9,712.8 221.3,710.3M237.9,720.4 236.7,715.1M201.5,696.0 204.1,698.1 207.4,697.5 210.0,699.5 213.4,698.6 215.9,701.0 218.9,701.4M258.1,767.4 259.4,764.6 260.8,761.8 264.2,760.2 264.5,756.7 267.4,754.8 268.0,751.5M246.7,755.5 249.5,753.6 252.4,752.0 254.6,749.5 257.0,747.1M257.0,747.1 260.7,748.5 264.2,750.4 268.0,751.5M240.1,741.1 243.0,738.8 246.3,737.5 249.5,735.8 252.8,734.3M257.0,747.1 255.8,743.9 255.1,740.6 252.7,737.9 252.8,734.3M237.9,720.4 241.1,721.1 243.3,723.9 246.6,724.3 249.5,725.7 252.6,726.6 255.2,728.6M252.8,734.3 253.9,731.4 255.2,728.6M255.2,728.6 258.0,726.8 260.9,725.3M260.9,725.3 261.1,722.1 262.1,719.0 264.7,716.3 265.3,713.2 264.4,709.6 265.5,706.6M246.6,699.7 250.1,701.1 253.9,700.4 257.7,699.8 261.1,701.8M261.1,701.8 262.3,705.1 265.5,706.6M391.2,346.9 391.0,346.2M391.2,346.9 394.6,348.1 398.3,348.1 401.4,350.2 404.8,351.5 408.1,352.8M391.0,346.2 393.2,343.8 395.7,341.7 397.4,339.0 399.1,336.2M408.1,352.8 408.2,349.5 409.9,346.8 410.5,343.7M410.5,343.7 408.9,339.7 406.4,336.2M406.4,336.2 402.7,335.4 399.1,336.2M392.6,325.5 394.8,327.8 396.6,330.4 397.5,333.5 399.1,336.2M380.1,338.9 382.3,341.6 385.3,343.0 388.3,344.4 391.0,346.2M425.7,341.6 422.7,342.5 419.5,341.4 416.7,343.9 413.7,344.1 410.5,343.7M426.5,336.0 425.7,341.6M415.5,329.4 418.1,331.3 421.4,332.0 423.7,334.4 426.5,336.0M410.8,329.7 408.1,332.6 406.4,336.2M434.3,348.6 429.9,348.3 427.1,344.8M434.3,348.6 435.1,351.5 435.6,354.5 436.2,357.5M427.1,344.8 424.2,347.3 423.1,351.0 421.2,354.1 419.7,357.5M419.7,357.5 422.7,359.2 426.1,359.6 429.2,360.8 432.2,362.4M436.2,357.5 433.5,359.3 432.2,362.4M409.7,357.1 413.2,358.1 416.7,358.8M416.7,358.8 419.7,357.5M425.7,341.6 427.1,344.8M409.7,357.1 408.1,352.8M522.8,389.5 519.8,385.0M519.8,385.0 522.0,382.9 523.5,380.3 525.5,378.0M558.9,372.2 561.3,374.1 564.4,374.6M564.4,374.6 567.5,373.1 569.0,370.0 571.1,367.6 573.9,365.7 575.5,362.8M556.0,357.9 558.4,354.7 561.6,352.2M561.6,352.2 565.7,353.5 570.0,353.2M556.0,362.5 556.0,357.9M575.5,362.8 572.7,360.2 572.5,356.1 570.0,353.2M611.5,373.7 607.2,374.4 603.4,376.4M603.4,376.4 603.0,380.0 600.8,383.1 600.3,386.7M507.4,458.2 509.1,455.1 512.1,453.4 515.0,451.4 516.5,448.3 518.9,445.8M507.4,458.2 510.1,460.4 513.2,462.3 515.9,464.5 518.6,466.9 522.3,467.8M522.3,467.8 524.6,467.6M525.8,451.1 524.9,454.3 527.3,457.5 525.5,460.6 524.8,463.8 525.2,467.0M525.8,451.1 522.1,448.8 518.9,445.8M524.6,467.6 525.2,467.0M518.9,445.8 518.9,445.8M506.0,458.3 503.7,455.9 501.7,453.1 499.7,450.4 497.0,448.3 494.0,446.5M494.0,446.5 496.5,444.0 498.8,441.2 501.0,438.4 503.7,436.0M506.0,458.3 507.4,458.2M503.7,436.0 506.5,438.4 509.8,439.9 513.6,440.6 516.8,442.4 518.9,445.8M497.9,473.7 499.7,470.8 500.1,467.0 502.1,464.2 504.5,461.5 506.0,458.3M499.9,478.1 497.9,473.7M516.2,474.0 519.9,471.6 522.3,467.8M529.0,478.6 527.8,474.9 525.2,471.6 524.6,467.6M534.8,449.3 531.5,448.4 528.9,451.1 525.8,451.1M536.7,465.0 532.9,465.7 529.0,466.3 525.2,467.0M504.1,433.4 506.1,430.3 509.1,428.6 512.4,427.2 515.1,424.9M504.1,433.4 503.7,436.0M515.1,424.9 517.8,426.7 520.2,429.1 523.5,430.0 526.2,431.8M526.2,431.8 525.8,435.1 523.6,437.5 522.2,440.4 520.8,443.2 518.9,445.8M218.2,556.8 216.5,559.9 216.7,563.3 218.5,566.9 216.7,570.0 215.7,573.2 215.0,576.4M218.2,556.8 215.3,555.3 212.1,554.8 209.2,553.4 205.9,553.5 202.9,552.5 199.9,551.5 196.6,551.4M215.0,576.4 212.1,577.7 209.1,578.1 206.1,578.7 203.1,579.3 199.8,579.0 197.0,580.2 194.3,582.0M196.6,551.4 193.8,552.9 192.1,555.8 189.4,557.5 186.9,559.4M186.9,559.4 187.7,563.2 186.5,566.7 185.5,570.3M185.5,570.3 188.3,572.8 191.0,575.4 193.3,578.2 194.3,582.0M197.7,531.5 196.4,534.8 197.1,538.1 196.8,541.4 196.5,544.7 196.3,548.0 196.6,551.4M167.6,545.4 170.3,547.5 172.3,550.5 175.7,551.6 178.6,553.4 181.6,555.1 184.1,557.5 186.9,559.4M159.2,579.3 161.6,576.9 165.2,577.8 168.2,577.0 171.2,576.1 173.5,573.3 176.6,573.0 179.7,572.4 182.6,571.4 185.5,570.3M167.9,607.2 171.2,607.3 174.2,606.7 176.5,604.2 179.4,603.4 182.2,602.2 184.4,599.5 187.5,599.2 190.5,598.5 193.4,597.5M193.4,597.5 193.2,594.4 194.5,591.4 194.1,588.2 192.6,585.0 194.3,582.0M216.4,527.2 218.6,529.7 219.5,533.0 221.6,535.6 223.2,538.5 225.4,541.0 226.5,544.2 228.4,546.9M218.2,556.8 222.2,556.9 224.0,553.1 227.1,551.6M228.4,546.9 227.1,551.6M367.4,416.8 364.8,418.5 363.0,421.3 360.4,423.0 356.9,423.5 354.9,426.1 351.8,427.2 350.6,430.8 347.3,431.6M367.4,416.8 367.9,414.2M344.0,399.3 341.2,400.7 339.3,403.4 336.0,404.1 333.5,405.9M333.5,405.9 334.7,409.2 332.5,411.9M354.4,398.6 356.7,401.1 358.1,404.4 361.5,406.1 363.7,408.7 365.4,411.7 367.9,414.2M354.4,398.6 350.9,398.8 347.4,398.5 344.0,399.3M347.3,431.6 345.2,429.3 344.0,426.4 341.7,424.2 339.9,421.8 338.3,419.1 335.9,417.1 335.1,413.7 332.5,411.9M272.2,439.8 268.9,439.4 265.7,438.1 262.2,439.5 259.1,437.0 255.7,437.6 252.4,437.5M272.2,439.8 273.0,442.7 274.5,445.5 273.9,448.7 274.3,451.7 276.8,454.3 275.6,457.6 276.1,460.5 276.4,463.6 276.8,466.6M263.8,469.6 267.4,470.2 270.3,468.0 273.6,467.6 276.8,466.6M263.8,469.6 261.1,468.1 258.7,466.2 256.0,464.6 254.4,461.6 252.3,459.4 248.3,459.5 247.0,456.1 244.5,454.4 242.0,452.6M252.4,437.5 249.4,439.7 247.0,442.7 243.6,444.5 240.6,446.7M240.6,446.7 240.9,449.8 242.0,452.6M232.2,473.7 234.1,470.9 236.0,468.2 235.3,464.2 237.7,461.6 238.3,458.2 240.5,455.6 242.0,452.6M249.4,490.4 250.1,487.0 253.9,485.8 254.4,482.3 256.6,479.9 258.9,477.7 261.0,475.3 262.3,472.4 263.8,469.6M229.2,442.0 231.4,444.8 234.7,444.8 237.6,446.0 240.6,446.7M303.4,406.1 304.8,409.3 307.2,412.3 307.0,416.1 308.5,419.3 309.2,422.8M303.4,406.1 299.6,405.4 296.0,404.0 292.2,403.2M297.3,432.6 300.5,431.5 303.3,429.9 305.2,426.9 308.2,425.5M297.3,432.6 294.3,431.2 291.3,430.4 288.0,430.8 284.8,431.1 281.7,430.3M292.2,403.2 289.0,405.3 285.2,405.7 281.6,406.7M309.2,422.8 308.2,425.5M281.7,430.3 280.6,427.3 279.7,424.3 279.0,421.2 277.7,418.3 276.5,415.4M281.6,406.7 280.5,409.9 277.1,411.8 276.5,415.4M215.0,576.4 217.4,578.8 219.1,582.2 222.6,583.2 226.8,583.6 228.1,587.3M227.1,551.6 229.6,553.7 231.4,556.5 234.1,558.5 236.2,561.0 239.1,562.8 241.2,565.2 243.2,567.9 245.6,570.1M245.6,570.1 244.4,572.9 243.4,575.8 241.7,578.4 241.8,581.6M241.8,581.6 238.3,583.0 234.8,584.2 231.8,586.7 228.1,587.3M228.1,587.3 227.3,590.2 226.3,593.1 224.3,595.6 224.8,599.0 223.0,601.6 221.1,604.2 220.6,607.2 220.2,610.3M193.4,597.5 196.3,598.8 198.0,601.6 199.6,604.4 201.9,606.4 205.2,607.3 206.9,610.1M206.9,610.1 210.2,610.9 213.6,608.8 216.9,609.8 220.2,610.3M178.9,633.1 182.2,633.6 185.3,632.7 188.5,631.8 191.4,630.3 194.7,630.0M206.9,610.1 205.6,613.2 203.7,615.9 201.0,618.2 200.2,621.6 198.3,624.3 196.3,627.1 194.7,630.0M201.1,658.3 203.3,655.5 206.6,653.7 208.1,650.3 210.5,647.7M194.7,630.0 195.9,633.4 199.1,635.1 201.5,637.5 203.1,640.7 206.3,642.4 208.8,644.7 210.5,647.7M316.9,684.8 320.1,686.6 323.1,688.9 326.9,689.7M316.9,684.8 316.5,681.7 315.8,678.6 314.9,675.6 313.7,672.7 313.9,669.4M325.4,664.2 322.3,664.9 319.7,666.9 316.8,668.2 313.9,669.4M367.4,416.8 369.3,419.2 372.4,420.6 374.3,423.1 376.6,425.1 377.3,428.7 380.1,430.3 382.1,432.7M402.8,425.2 401.0,422.4 400.4,419.1 398.6,416.3 397.4,413.2 396.4,410.1M396.4,410.1 393.8,407.5 390.8,405.5 387.1,404.7M367.9,414.2 370.1,411.3 373.4,409.8 376.0,407.5M387.1,404.7 383.1,404.5 379.8,407.0 376.0,407.5M532.1,327.6 532.7,327.6M532.1,327.6 530.2,325.2 528.7,322.2 526.2,320.3 523.8,318.2M524.5,310.3 525.4,314.4 523.8,318.2M328.5,242.7 326.4,244.9 323.6,246.2 321.1,247.8M332.8,264.0 330.6,261.5 329.1,258.4 327.2,255.7 325.5,252.8 323.2,250.4 321.1,247.8M426.5,336.0 430.6,331.9M532.1,327.6 529.6,330.6 526.5,332.9M526.5,332.9 523.2,332.0 519.9,330.9 517.4,328.1 513.8,327.7M523.8,318.2 519.9,319.4 516.6,321.6 514.0,324.7M191.2,278.1 188.3,276.6 185.1,276.5 181.9,276.2M181.9,276.2 181.0,273.3 181.5,270.2 181.3,267.2 181.2,264.1 179.6,261.3 178.4,258.4 179.3,255.3 180.2,252.1 178.7,249.3M191.2,278.1 191.6,275.1 193.5,272.4 193.2,269.2 194.0,266.3 194.1,263.2 195.0,260.3 195.6,257.3 196.8,254.5 197.6,251.6M197.6,251.6 194.4,251.4 191.1,252.7 188.1,251.0 185.1,249.5 181.9,249.9 178.7,249.3M220.8,177.6 220.8,181.6 222.9,185.0 224.0,188.7M241.1,177.9 242.1,181.1 240.4,184.2 240.8,187.4 240.5,190.6M224.0,188.7 227.3,189.3 230.6,189.6 233.8,191.0 237.1,191.2 240.5,190.6M252.1,194.1 248.9,191.6 245.1,192.9 241.7,192.1M241.7,192.1 240.5,190.6M265.4,203.9 268.0,205.8 271.5,206.0 274.3,207.4 276.4,210.2 279.5,211.2M289.9,204.1 286.8,205.1 284.7,207.7 282.1,209.5 279.5,211.2M262.6,225.8 265.7,225.1 268.9,224.3 272.0,223.3 275.0,222.0 278.5,222.5M256.3,211.9 257.1,214.9 258.6,217.6 260.0,220.3 260.7,223.3 262.6,225.8M256.3,211.9 258.9,209.0 259.7,205.3M279.5,211.2 279.1,214.9 279.3,218.8 278.5,222.5M326.2,397.7 328.9,400.1 331.5,402.7 333.5,405.9M344.0,399.3 342.4,396.3 342.4,392.7 341.1,389.5 340.2,386.2 340.2,382.7 338.4,379.6M326.2,397.7 327.4,394.8 327.3,391.6 328.8,388.8 329.7,385.9 330.9,383.0 330.9,379.8M338.4,379.6 334.6,379.9 330.9,379.8M338.1,297.2 337.7,299.9M349.9,312.5 345.7,312.5M337.7,299.9 340.6,302.4 342.5,305.7 344.6,308.8 345.7,312.5M327.6,291.5 325.7,294.5 323.2,296.9 321.2,299.8 318.2,301.8M318.2,301.8 321.2,303.6 323.4,306.5 326.4,308.3M337.7,299.9 335.9,303.4 331.5,303.4 329.1,306.0 326.4,308.3M357.1,343.5 355.0,346.9 353.7,350.6M337.6,351.0 340.8,350.5 344.1,351.8 347.3,350.8 350.5,350.3 353.7,350.6M337.6,351.0 336.6,347.6 337.8,343.7 335.6,340.4M348.2,332.7 343.9,332.0 339.6,332.8M335.6,340.4 338.8,337.2 339.6,332.8M345.7,312.5 342.8,314.7 340.6,317.8 338.0,320.3 334.2,321.4M339.6,332.8 337.6,330.3 337.1,327.0 336.2,324.0 334.2,321.4M326.4,308.3 327.4,312.0 327.7,315.7 328.7,319.4M328.7,319.4 334.2,321.4M181.9,276.2 179.3,278.6 175.9,277.4 173.3,279.9 170.1,279.3 167.0,279.4 164.0,280.1M203.9,287.1 203.0,290.6 202.4,294.2 201.2,297.6 201.9,301.4M203.9,287.1 201.4,285.2 198.2,284.4 196.4,281.6 194.2,279.3 191.2,278.1M159.2,311.5 162.2,313.3 165.3,311.5 168.3,312.6 171.5,310.9 174.4,313.1 177.4,313.6 180.5,313.3 183.6,313.0 186.6,313.1 189.7,313.3M189.7,313.3 192.0,310.7 194.2,308.1 197.0,306.1 200.1,304.4 201.9,301.4M202.4,248.0 200.0,249.8 197.6,251.6M203.9,287.1 207.2,286.2 209.8,284.0 213.1,282.9 215.8,280.9 218.7,279.2M202.4,248.0 205.8,249.2 208.1,252.0 211.4,253.3 213.9,255.7M218.7,279.2 218.1,275.8 218.9,272.1 216.7,269.1 215.8,265.8 215.6,262.3 214.3,259.1 213.9,255.7M281.4,237.6 277.7,238.0 274.2,239.6 270.6,240.5 267.0,241.4M281.4,237.6 283.4,240.0 285.7,242.1 287.8,244.4 290.0,246.5M290.0,246.5 291.1,250.0 289.9,253.5M289.9,253.5 286.7,253.6 283.4,251.8 280.1,253.9 276.9,253.9 273.6,255.1 270.3,254.4 267.0,254.0M267.0,254.0 265.4,250.5 264.5,246.7M264.5,246.7 267.0,241.4M262.3,226.6 263.1,229.6 264.4,232.5 265.0,235.5 265.6,238.6 267.0,241.4M262.6,225.8 262.3,226.6M281.5,225.8 278.5,222.5M281.5,225.8 281.5,229.8 281.2,233.7 281.4,237.6M248.2,244.6 247.0,241.0 248.5,237.3 248.1,233.6M262.3,226.6 259.5,228.1 256.3,228.7 254.3,231.9 251.4,233.1 248.1,233.6M248.2,244.6 251.5,244.8 254.6,246.5 257.9,246.2 261.3,245.5 264.5,246.7M316.8,247.5 316.6,244.0 313.6,242.2M316.8,247.5 315.6,250.9 312.0,252.3 310.5,255.5M296.7,240.2 300.1,240.5 303.5,240.5 306.8,241.4 310.1,242.3 313.6,242.2M289.9,253.5 290.2,254.0M296.7,240.2 294.9,242.8 292.7,244.8 290.0,246.5M310.5,255.5 307.0,256.7 303.8,254.4 300.3,254.9 297.0,253.8 293.6,254.4 290.2,254.0M330.2,379.3 330.9,379.8M326.2,397.7 323.2,396.6 320.1,396.1 317.1,395.3 313.9,395.0M330.2,379.3 327.1,380.2 324.0,378.7 320.9,379.6 317.8,378.8M317.8,378.8 316.9,382.0 316.4,385.3 314.5,388.3 314.7,391.7 313.9,395.0M303.4,406.1 306.3,403.3 307.3,399.3 309.8,396.3M332.5,411.9 328.8,411.7 326.6,414.6 323.3,415.0 320.4,416.5 318.3,419.5 314.8,419.7 312.3,421.9 309.2,422.8M309.8,396.3 313.9,395.0M317.8,378.8 315.6,376.3 313.0,374.1M313.0,374.1 312.7,370.4M330.2,379.3 329.3,376.1 329.5,372.7 329.0,369.4 328.0,366.2 328.0,362.9 326.9,359.7M312.7,370.4 315.0,367.5 318.3,366.0 321.4,364.2 324.4,362.2 326.9,359.7M189.7,313.3 190.5,316.2 191.5,319.2 191.3,322.4 193.6,325.0 192.9,328.3 193.7,331.3 193.6,334.5 195.7,337.2 195.8,340.3M201.9,301.4 203.9,303.9 206.7,305.3 209.1,307.2 211.5,309.1 213.4,311.7 216.7,312.5 218.3,315.5 221.2,316.7 223.9,318.4M223.9,318.4 223.1,321.4 222.7,324.6 221.3,327.6 221.9,330.8 221.9,334.1 221.0,337.1M221.0,337.1 217.9,338.0 214.7,337.6 211.5,338.2 208.5,339.2 205.2,338.9 202.3,340.8 199.0,340.5 195.8,340.3M155.3,347.3 158.4,347.5 161.3,346.3 164.3,346.5 167.2,344.6 170.2,344.4 173.3,344.5 176.3,344.6 179.2,343.2 182.3,343.4 185.4,343.6 188.3,342.9 191.4,343.2 194.4,342.4M194.6,380.2 198.0,378.6 199.4,375.1M199.4,375.1 199.4,372.1 197.6,369.3 197.1,366.3 197.7,363.2 196.6,360.3 197.4,357.1 196.2,354.3 196.0,351.3 195.1,348.4 195.5,345.3 194.4,342.4M194.4,342.4 195.8,340.3M281.7,430.3 279.4,432.7 277.0,435.1 274.9,437.7 272.2,439.8M252.4,437.5 251.3,434.3 251.9,431.1 251.3,428.0 251.2,424.8 251.5,421.6 251.8,418.3 251.6,415.2 251.3,412.0M276.5,415.4 273.5,414.6 270.5,413.6 267.6,411.9 264.5,411.6 261.2,411.7 258.5,409.5 255.1,410.4M251.3,412.0 255.1,410.4M303.0,764.0 300.7,761.7 299.4,758.7 296.9,756.6 296.0,753.3 293.6,751.1M281.3,770.8 281.3,768.7M281.3,768.7 282.8,766.0 284.9,763.7 287.7,761.9 287.9,758.3 290.9,756.7 291.4,753.2 293.6,751.1M268.0,751.5 269.8,751.0M281.3,768.7 281.1,765.3 277.6,764.0 276.0,761.4 274.0,759.1 273.2,756.0 270.8,754.0 269.8,751.0M320.6,704.4 317.6,703.8 314.5,703.3 311.7,701.9 308.6,701.4 305.7,700.6M315.6,719.1 311.2,718.2 306.8,719.3M305.7,700.6 305.2,704.0 304.8,707.4 305.6,710.9 304.8,714.3 304.7,717.7M306.8,719.3 304.7,717.7M316.9,684.8 315.6,687.7 313.1,689.6 311.5,692.2 308.7,693.7 305.9,695.3 304.1,697.8M304.1,697.8 305.7,700.6M317.7,743.9 313.7,742.3 309.5,741.2M309.5,741.2 309.0,738.1 308.1,735.0 308.0,731.8 308.3,728.6 308.0,725.5 307.6,722.4 306.8,719.3M289.6,721.6 292.5,720.2 295.7,720.2 298.2,717.6 301.8,718.9 304.7,717.7M279.3,706.5 280.6,709.3 282.3,711.8 284.9,713.8 285.8,716.8 288.8,718.5 289.6,721.6M279.3,706.5 280.7,703.6 283.2,701.7 285.7,699.8 287.7,697.5 288.5,693.9 292.3,693.3M304.1,697.8 301.6,695.6 298.3,695.2 295.4,693.9 292.3,693.3M434.3,348.6 437.4,347.7 440.1,345.9 443.1,344.6 445.8,343.0M525.6,340.2 522.7,342.3 519.2,343.3 516.2,345.5M526.5,332.9 523.9,336.3 525.6,340.2M514.7,421.4 511.7,420.1 510.1,417.1 507.9,414.7 505.4,412.8 502.8,411.0M514.7,421.4 516.6,418.9 518.5,416.3 520.5,413.9 522.7,411.7M515.0,403.3 511.9,402.8 508.7,402.4 505.6,403.2M502.8,411.0 504.8,407.3 505.6,403.2M515.1,424.9 514.7,421.4M504.1,433.4 501.3,431.4 500.0,428.1 497.6,425.8 494.7,423.9 493.9,420.2 491.0,418.3M491.0,418.3 494.0,416.6 496.8,414.5 500.1,413.3 502.8,411.0M518.1,384.7 519.8,385.0M502.3,395.8 504.0,399.5 505.6,403.2M518.1,384.7 515.6,386.7 513.0,388.5 509.6,389.4 507.6,392.1 504.5,393.3 502.3,395.8M531.4,344.0 531.7,347.1 531.0,350.1 530.2,353.2 531.5,356.3M531.4,344.0 535.1,343.4 538.6,342.0M543.7,343.5 542.5,347.2 544.2,350.9 543.8,354.6M540.1,357.1 543.8,354.6M515.5,351.2 517.6,353.9 520.5,355.8M525.6,340.2 528.5,342.1 531.4,344.0M559.2,345.4 561.0,348.6 561.6,352.2M556.0,357.9 553.0,356.9 549.5,357.9 546.6,356.5 543.8,354.6M592.1,386.0 589.6,382.9 587.9,379.0 584.0,377.1M584.0,377.1 584.5,372.7 586.3,368.6M603.4,376.4 601.5,373.5 599.2,371.0 596.7,368.8M586.3,368.6 589.8,369.4 593.2,368.8 596.7,368.8M564.4,374.6 565.7,378.4 567.4,382.1 570.2,385.1M575.5,362.8 579.7,363.5 583.7,365.1M584.0,377.1 580.9,378.0 578.3,379.9 574.9,380.5 572.9,383.5 570.2,385.1M586.3,368.6 583.7,365.1M607.2,354.5 604.5,354.3M596.7,368.8 597.5,365.5 600.5,363.4 601.8,360.3 602.8,357.1 604.5,354.3M596.8,426.1 597.9,423.1 597.7,420.1 597.0,417.1 597.0,414.0M596.8,426.1 593.2,427.7 589.4,428.5M570.2,385.1 570.2,385.1M526.2,431.8 528.0,431.4M606.5,430.1 603.2,428.8 600.2,427.0 596.8,426.1M269.2,516.8 269.3,520.2 269.7,523.6 271.7,526.8 271.9,530.1 271.3,533.7 271.9,537.0M269.2,516.8 266.4,518.4 263.2,518.8 260.0,518.9 257.6,521.9 253.9,520.1 251.6,523.4 248.4,523.5 245.1,523.5M245.1,523.5 244.6,527.0 243.6,530.4 244.6,533.9 244.2,537.3M244.2,537.3 247.5,538.6 250.1,540.9 253.3,542.3 256.7,543.4 259.0,546.2 262.3,547.5M262.3,547.5 266.1,546.1 268.4,543.4 269.7,539.8 271.9,537.0M231.5,508.6 234.4,510.5 236.2,513.5 238.3,516.1 240.2,518.9 243.3,520.6 245.1,523.5M271.8,511.7 269.2,516.8M271.3,506.1 271.8,511.7M271.3,506.1 268.9,503.8 266.1,502.0 263.1,500.5 260.8,498.0 257.6,496.7 254.7,495.1 251.9,493.3 249.5,491.1M228.4,546.9 231.3,545.7 233.8,543.9 236.4,542.3 238.8,540.2 241.5,538.8 244.2,537.3M245.6,570.1 248.2,568.0 250.8,566.1 254.0,565.3 256.9,563.9 260.4,563.8 262.9,561.6M262.9,561.6 262.8,558.1 262.0,554.6 262.3,551.0 262.3,547.5M276.8,466.6 278.5,467.4M297.3,432.6 297.7,435.6 297.6,438.7 298.9,441.7 299.5,444.7 299.8,447.8 300.9,450.7 300.3,453.9M300.3,453.9 297.4,455.3 294.4,456.6 292.8,460.0 289.6,461.0 286.5,462.1 283.9,464.0 281.2,465.6 278.5,467.4M271.3,506.1 272.9,502.9 274.9,500.2 277.7,498.3 280.4,496.3 282.7,493.9 285.7,492.1 288.6,490.3 289.7,486.8M278.5,467.4 279.8,470.3 280.4,473.7 283.6,475.5 285.6,478.1 287.9,480.4 287.9,484.1 289.7,486.8M346.4,468.6 343.4,467.7 340.4,467.2 337.4,467.1 334.4,467.7 331.4,468.5 328.3,469.4 325.3,468.8 322.3,467.9M346.4,468.6 347.9,465.8 349.7,463.1 352.6,461.3 354.3,458.5 354.9,455.1 356.9,452.6M326.1,442.1 329.5,441.8 332.3,440.2 335.3,439.0 338.5,438.2 340.8,435.3 344.2,435.2 346.9,433.3M326.1,442.1 325.9,445.3 324.4,448.3 323.7,451.4 322.2,454.3 322.2,457.6 320.5,460.5 320.5,463.8M320.5,463.8 322.3,467.9M356.9,452.6 355.4,449.9 354.8,446.7 352.6,444.3 350.6,441.9 349.1,439.1 347.5,436.5 346.9,433.3M329.1,501.5 332.1,500.9 334.6,498.7 337.7,498.4 341.1,499.0 343.9,497.7 346.7,496.3M352.5,479.7 352.0,483.2 350.8,486.5 350.2,490.1 347.6,492.9 346.7,496.3M318.1,477.3 319.4,474.1 321.6,471.4 322.3,467.9M329.1,501.5 327.2,498.7 326.5,495.4 326.5,491.7 324.2,489.1 323.1,486.0 321.0,483.3 319.2,480.5 318.1,477.3M352.5,479.7 351.5,476.6 350.4,473.6 347.4,471.7 346.4,468.6M352.5,479.7 356.0,478.9 359.0,480.6 362.3,480.7 365.3,482.2 368.5,483.3 372.0,482.3 375.1,483.6M376.3,482.9 375.1,483.6M380.7,457.7 379.8,460.8 378.6,463.9 379.6,467.3 377.6,470.2 378.1,473.5 378.1,476.7 377.6,479.9 376.3,482.9M376.8,453.6 373.6,452.0 370.2,453.0 366.8,453.0 363.5,452.7 360.3,451.1 356.9,452.6M308.2,425.5 310.7,427.4 312.7,429.7 315.5,431.2 317.2,433.8 319.5,435.8 321.7,437.9 324.7,439.2 326.1,442.1M347.3,431.6 346.9,433.3M300.3,453.9 303.7,454.4 305.9,457.0 309.2,457.6 312.0,459.4 314.8,461.0 317.6,462.6 320.5,463.8M318.1,477.3 314.9,478.4 312.1,480.3 308.6,480.7 305.4,481.6 302.6,483.6 299.6,485.2 296.4,486.1 293.3,487.5M293.3,487.5 289.7,486.8M220.2,610.3 222.9,613.6 226.3,616.1M226.3,616.1 229.5,616.3 232.6,616.5 235.4,614.0 238.4,613.7 241.7,614.6 244.7,613.7 247.8,613.6 250.8,612.7M241.8,581.6 244.8,583.7 246.2,587.4 248.7,589.9 251.9,591.8 254.0,594.8M254.0,594.8 254.4,598.0 253.3,601.0 253.3,604.1 253.0,607.2 253.1,610.3M250.8,612.7 253.1,610.3M303.8,643.3 304.2,646.6 306.1,649.8 305.2,653.1 304.2,656.3 303.7,659.6 303.2,662.9 303.7,666.1M303.7,666.1 300.4,667.8 297.2,669.7 293.1,669.6 290.1,672.0M303.8,643.3 300.9,641.3 297.8,640.4 294.0,643.0 291.3,640.1 287.8,641.4 284.9,639.1 281.6,639.6 278.5,638.6M278.5,638.6 278.3,641.9 277.2,645.1 276.3,648.3M276.3,648.3 278.3,650.7 279.1,653.8 280.4,656.5 281.1,659.7 284.2,661.3 286.1,663.7 287.1,666.7 288.8,669.2 290.1,672.0M313.9,669.4 310.3,668.9 307.2,667.1 303.7,666.1M292.3,693.3 290.0,690.1 290.1,686.4 290.4,682.6 288.9,679.3 287.9,675.8M290.1,672.0 287.9,675.8M261.1,701.8 261.7,698.4 262.2,695.0 263.7,691.9 264.6,688.6 264.5,685.1 265.6,681.8 266.8,678.6M265.5,706.6 269.0,708.2 272.4,707.4 275.9,706.6 279.3,706.5M287.9,675.8 285.1,677.5 281.8,676.0 278.9,677.6 275.9,677.9 272.8,677.7 269.7,677.3 266.8,678.6M234.0,680.9 230.8,678.2 227.2,676.1M234.0,680.9 235.9,678.4 239.3,677.8 241.4,675.4 245.0,675.0 246.7,672.1 249.0,669.9 251.1,667.5 254.0,666.3M227.2,676.1 226.9,673.1 226.3,670.1 226.4,667.1 225.3,664.2 224.3,661.3 225.1,658.1 224.1,655.2 225.5,652.0 223.7,649.2 222.8,646.3M254.0,666.3 254.3,663.5M254.3,663.5 253.6,660.2 251.6,657.8 249.3,655.7 248.1,652.8 246.0,650.5 245.2,647.4 242.5,645.5M242.5,645.5 238.9,644.5 235.3,643.6 231.7,642.3 227.9,642.1M222.8,646.3 225.3,644.2 227.9,642.1M206.4,677.5 209.9,677.8 213.3,677.5 216.8,677.8 220.2,676.2 223.7,676.5 227.2,676.1M234.5,686.1 234.0,680.9M266.8,678.6 264.1,676.3 261.7,673.7 259.0,671.4 257.1,668.2 254.0,666.3M210.5,647.7 213.4,646.0 216.7,647.8 219.6,645.9 222.8,646.3M276.3,648.3 273.3,649.9 270.6,651.8 267.8,653.7 265.2,655.8 263.0,658.5 259.2,658.8 256.1,660.3 254.3,663.5M278.5,638.6 278.1,637.8M255.7,633.5 258.8,634.4 262.1,635.0 265.4,634.8 268.6,635.3 271.8,636.2 275.3,635.3 278.1,637.8M255.7,633.5 252.9,635.7 250.7,638.6 246.7,639.6 245.8,643.8 242.5,645.5M255.7,633.5 255.5,630.4 254.5,627.5 254.4,624.4 252.6,621.7 252.0,618.7 252.3,615.5 250.8,612.7M226.3,616.1 225.8,619.4 227.5,622.6 226.7,625.9 227.2,629.1 226.3,632.4 228.4,635.6 226.4,638.9 227.9,642.1M400.8,573.4 397.9,570.9 395.8,567.8 392.6,565.8 389.7,563.4M382.2,586.8 379.9,583.6 377.7,580.5M389.7,563.4 388.5,566.8 385.8,569.2 382.5,571.2 381.8,574.9 380.5,578.2 377.7,580.5M377.7,580.5 374.6,580.3 371.5,581.5 368.4,579.7 365.3,579.0 362.2,580.2M362.2,580.2 361.8,580.6M362.1,609.2 362.7,606.0 360.3,602.9 362.0,599.7 361.3,596.5 362.8,593.3 361.2,590.2 362.2,587.0 361.9,583.8 361.8,580.6M371.8,343.1 372.2,346.5 372.4,350.0 371.6,353.4 372.7,356.8M353.7,350.6 354.3,353.7 356.6,356.1 357.8,358.9M357.8,358.9 360.7,357.8 363.6,357.1 366.8,358.5 369.7,357.3 372.7,356.8M416.6,451.3 418.0,454.4 421.6,455.7 422.2,459.3 424.2,461.9 426.7,464.0M397.0,459.0 399.4,461.5 401.0,464.3 401.4,467.7 403.0,470.5 404.7,473.3 405.7,476.5 406.9,479.5M426.7,464.0 424.2,466.6 422.9,470.1 420.4,472.6 417.9,475.2 416.3,478.5M406.9,479.5 410.1,479.9 413.2,479.3 416.3,478.5M376.3,482.9 379.7,483.2 382.2,485.8 385.3,486.9 388.7,487.1 391.2,489.8 394.6,490.1 397.8,490.8M406.9,479.5 404.6,482.3 401.5,484.4 399.2,487.2 397.8,490.8M224.0,188.7 223.0,191.7 220.9,194.0 219.2,196.6M219.2,196.6 215.3,196.8 211.4,197.7M214.5,175.1 211.9,178.2 208.3,179.9 205.5,182.6M206.2,189.8 206.0,186.2 205.5,182.6M194.3,168.1 196.8,170.8 196.8,174.0 195.8,177.5 197.2,180.4M197.2,180.4 201.4,181.4 205.5,182.6M236.1,205.0 232.5,205.1 228.8,204.5 225.2,204.9M236.1,205.0 236.7,208.1 238.9,210.3 240.7,212.7 242.0,215.5M225.2,204.9 223.9,208.2 223.5,211.8 221.1,214.6 220.1,218.0M220.1,218.0 222.8,220.1 225.9,221.6 228.3,224.1 230.9,226.3M242.0,215.5 239.5,217.8 238.5,221.1 237.2,224.1M237.2,224.1 233.6,223.8 230.9,226.3M219.2,196.6 220.3,200.0 223.5,201.9 225.2,204.9M241.7,192.1 239.0,194.8 238.3,198.3 237.6,201.8 236.1,205.0M256.3,211.9 252.8,213.0 249.4,214.7 245.3,213.5 242.0,215.5M248.1,233.6 246.0,230.5 242.1,229.5 239.3,227.3 237.2,224.1M197.2,180.4 194.8,182.3M187.2,168.4 185.5,172.8 181.8,175.5M177.7,158.8 175.7,161.1 174.4,163.9 171.2,165.1 169.5,167.6M178.7,249.3 178.5,249.1M294.0,224.7 295.8,220.5M294.0,224.7 296.1,227.7 298.4,230.5M298.4,230.5 301.6,229.6 305.0,230.0 308.0,228.4M281.5,225.8 284.6,225.6 287.8,225.4 290.9,225.5 294.0,224.7M296.7,240.2 297.3,237.0 297.9,233.7 298.4,230.5M313.6,242.2 313.4,238.6 314.6,235.0 313.9,231.4M321.1,247.8 316.8,247.5M334.7,356.2 336.6,358.7 339.2,360.6 340.2,363.8 343.2,365.4 344.6,368.3M334.7,356.2 330.9,357.6 327.2,359.2M327.2,359.2 326.9,359.7M338.4,379.6 341.5,377.9 344.3,375.6M344.3,375.6 344.4,372.0 344.6,368.3M357.8,358.9 357.2,360.6M337.6,351.0 334.7,356.2M344.6,368.3 347.0,365.3 351.2,365.0 354.4,363.1 357.2,360.6M305.6,356.5 309.3,356.1 312.8,355.2 316.5,354.8 320.0,353.5M320.0,353.5 318.7,350.1 318.5,346.5 318.0,343.1M305.6,356.5 305.5,353.4 303.9,350.5 305.0,347.3 305.5,344.2 304.2,341.3M304.2,341.3 304.9,340.6M318.0,343.1 314.5,343.8 311.6,341.5 308.3,341.0 304.9,340.6M320.0,353.5 322.2,355.6 325.1,356.9 327.2,359.2M335.6,340.4 332.3,340.3 328.9,339.9 325.5,340.2 322.3,338.9M318.0,343.1 322.3,338.9M328.7,319.4 325.5,321.3 322.0,322.5 318.7,324.3M322.3,338.9 322.7,335.7 321.5,332.9 319.8,330.2 319.1,327.3 318.7,324.3M226.5,237.5 227.2,233.5 229.9,230.2 230.9,226.3M248.2,244.6 246.0,247.1 244.0,249.7 241.2,251.5M226.5,237.5 227.6,241.1 228.5,244.8M228.5,244.8 230.6,247.1 233.0,249.1 236.7,249.0 238.7,251.5M241.2,251.5 238.7,251.5M218.7,279.2 221.2,279.2M213.9,255.7 217.2,254.9 218.8,252.1 221.1,250.1 223.6,248.4 226.2,246.8 228.5,244.8M238.7,251.5 237.5,254.6 234.7,256.7 233.1,259.6 231.9,262.7 230.4,265.6 228.3,268.2 227.2,271.4 224.7,273.7 223.4,276.7 221.2,279.2M302.8,274.9 306.2,275.7 307.7,279.8 311.4,280.1 314.3,281.8M302.8,274.9 302.8,274.7M302.8,274.7 304.8,272.3 305.8,269.3 308.3,267.2 310.6,265.1 311.6,262.1M315.2,281.5 314.3,281.8M315.2,281.5 317.5,278.6 319.8,275.7 322.6,273.1 324.0,269.5M324.0,269.5 321.1,267.3 318.0,265.5 315.1,263.3 311.6,262.1M281.1,273.6 280.5,271.4M289.9,257.7 287.8,260.3 286.5,263.4 283.8,265.6 282.5,268.8 280.5,271.4M295.9,280.7 298.8,277.1 302.8,274.9M295.9,280.7 292.9,279.5 290.1,277.7 287.2,276.1 284.2,274.6 281.1,273.6M289.9,257.7 292.5,259.5 293.4,262.7 295.9,264.6 298.2,266.7 299.2,269.8 300.8,272.4 302.8,274.7M310.5,255.5 310.6,258.9 311.6,262.1M290.2,254.0 289.9,257.7M318.2,301.8 316.9,301.6M323.6,285.7 319.9,286.1 318.0,282.8 315.2,281.5M316.9,301.6 313.0,299.5 310.1,296.2M310.1,296.2 311.6,293.5 312.0,290.5 313.0,287.6 314.5,284.9 314.3,281.8M330.5,267.7 327.3,268.8 324.0,269.5M222.3,413.1 225.3,411.2 228.4,409.2 231.3,407.1M251.3,412.0 247.7,411.8 244.7,409.8 241.7,407.7 238.2,407.2M231.3,407.1 234.7,406.6 238.2,407.2M255.1,410.4 256.6,407.3 256.5,403.5 259.1,400.8 261.9,398.2 261.3,394.2 263.1,391.2M249.1,384.7 247.6,387.5 247.2,390.7 244.6,392.9 242.7,395.5 242.9,399.1 241.8,402.0 241.9,405.5 238.2,407.2M249.1,384.7 252.6,384.4M252.6,384.4 256.1,384.8 258.1,387.4 260.2,389.9 263.1,391.2M305.6,356.5 304.2,358.8M312.7,370.4 310.5,367.6 307.2,365.9 304.8,363.2M304.2,358.8 304.8,363.2M292.2,403.2 292.3,399.8 291.5,396.5 290.9,393.1 290.3,389.8 291.0,386.3M309.8,396.3 307.9,393.7 307.5,389.9 304.1,388.3 302.4,385.6 300.3,383.0M291.0,386.3 293.9,384.6 297.7,385.5 300.3,383.0M304.8,363.2 301.9,365.7 298.1,367.2 296.1,370.7M290.8,355.7 288.9,357.6M288.9,357.6 289.3,361.5 289.1,365.4 288.8,369.2M304.2,358.8 300.8,358.2 297.5,357.2 294.0,357.1 290.8,355.7M296.1,370.7 292.4,370.2 288.8,369.2M313.0,374.1 310.1,375.4 307.5,376.9 305.3,379.1 303.5,382.0 300.4,382.9M296.1,370.7 297.0,373.8 297.7,377.0 300.0,379.6 300.4,382.9M300.3,383.0 300.4,382.9M271.0,368.9 269.0,371.2M271.0,368.9 272.1,368.6M272.1,368.6 274.9,369.9 278.1,370.0 280.8,371.5 283.6,372.9M269.0,371.2 270.4,374.8 269.4,378.3 268.9,381.9 268.5,385.4 268.8,389.0M283.6,372.9 285.2,376.4 285.4,380.3 285.5,384.1M285.5,384.1 283.0,386.4 279.6,387.1 277.2,389.7 274.0,390.8M274.0,390.8 268.8,389.0M288.8,369.2 286.9,372.0 283.6,372.9M278.7,357.4 282.1,357.5 285.5,357.0 288.9,357.6M278.7,357.4 276.3,359.8 274.8,362.7 273.2,365.5 272.1,368.6M257.0,372.3 260.1,372.6 262.9,371.1 266.0,371.6 269.0,371.2M257.0,372.3 255.8,375.3 254.1,378.1 254.8,381.7 252.6,384.4M263.1,391.2 265.7,389.4 268.8,389.0M291.0,386.3 285.5,384.1M281.6,406.7 280.1,403.5 278.9,400.2 278.2,396.6 275.5,394.0 274.0,390.8M272.8,734.0 274.7,737.2 274.1,741.0 275.0,744.4M272.8,734.0 275.6,732.5 278.3,730.9 281.3,729.7 283.1,726.6 285.8,725.0 288.9,724.0M275.0,744.4 277.8,747.0 281.1,746.1 284.4,745.5 287.7,744.9 290.7,746.2 293.6,747.6M288.9,724.0 289.2,727.2 292.7,729.1 293.5,732.0 293.2,735.5 294.9,738.1 295.0,741.3 297.2,743.7M297.2,743.7 293.6,747.6M260.9,725.3 263.9,727.5 267.1,729.3 270.3,731.3 272.8,734.0M269.8,751.0 272.4,747.7 275.0,744.4M289.6,721.6 288.9,724.0M293.6,751.1 293.6,747.6M309.5,741.2 306.3,741.5 303.2,742.0 300.2,743.0 297.2,743.7M514.6,368.4 513.0,369.1M506.2,355.2 506.2,359.4 505.9,363.5M505.9,363.5 509.1,366.7 513.0,369.1M518.1,384.7 516.5,381.9 513.4,380.5 511.6,377.9M511.6,377.9 511.8,373.4 513.0,369.1M466.0,349.2 465.3,352.7 464.8,356.2 463.0,359.4M449.6,344.2 448.9,348.5 451.0,352.4M463.0,359.4 460.3,357.2 456.5,356.8 454.3,353.7 451.0,352.4M436.2,357.5 440.7,357.8 445.0,359.0M445.0,359.0 447.8,355.5 451.0,352.4M419.9,371.3 422.4,373.0 425.5,373.6M416.7,358.8 417.4,361.9 418.7,364.9 419.3,368.1 419.9,371.3M432.2,362.4 432.4,365.6M425.5,373.6 427.7,370.9 430.2,368.4 432.4,365.6M447.4,367.2 446.7,363.0 445.0,359.0M447.4,367.2 444.1,369.7 440.3,371.2M432.4,365.6 435.2,367.2 437.3,369.9 440.3,371.2M604.1,354.0 601.1,353.6 598.1,353.4 595.1,353.5 592.1,352.4 589.0,352.9M604.1,354.0 603.1,350.2 601.7,346.5 600.7,342.7M589.0,352.9 585.6,350.7 585.6,346.5 583.7,343.4M583.7,365.1 584.9,362.0 588.3,359.9 587.2,355.7 589.0,352.9M604.5,354.3 604.1,354.0M570.0,353.2 573.5,351.8 575.2,348.8 576.9,345.8 579.0,343.2M356.5,611.3 354.9,608.4 351.8,607.5 349.9,604.9 346.4,604.7 344.1,602.6 341.6,600.9 339.9,598.1 337.6,596.1 334.7,594.9M334.7,594.9 334.0,598.1 330.7,599.6 329.9,602.7 328.1,605.2 326.6,607.8M326.6,607.8 328.9,610.4 328.2,614.3 331.0,616.7 331.4,620.1 333.0,623.0M303.8,643.3 305.8,640.6 309.0,639.5 310.8,636.7 313.8,635.4M313.8,635.4 317.2,635.5 320.5,636.9 324.0,636.9M253.1,610.3 256.1,611.0 259.0,612.1 262.2,611.6 265.1,612.9 268.2,612.9 271.1,614.5 274.3,613.7M278.1,637.8 278.6,634.5 280.0,631.4 281.2,628.3 281.7,625.1 281.4,621.6M281.4,621.6 279.4,618.6 276.3,616.6 274.3,613.7M313.8,635.4 311.5,632.9 311.5,629.3 309.0,626.9 309.0,623.3 307.0,620.7 305.0,618.0 304.4,614.7 302.6,612.0M281.4,621.6 284.1,619.6 287.6,619.3 291.0,618.6 293.6,616.3 296.6,614.9 300.0,614.4 302.6,612.0M387.1,404.7 388.4,401.3 391.4,398.4 390.2,394.2M408.0,399.6 404.9,400.8 404.1,404.7 401.2,406.1 399.6,409.0 396.4,410.1M390.2,394.2 392.7,392.3 395.3,390.6 398.3,389.4M408.0,399.6 408.0,396.5M398.3,389.4 401.2,390.5 402.7,393.6 405.6,394.8 408.0,396.5M376.0,407.5 375.4,404.0 375.8,400.5 374.6,397.1 373.9,393.7 372.8,390.3 373.5,386.7M354.4,398.6 355.1,394.9 357.6,392.0 358.1,388.2M373.5,386.7 370.4,386.8 367.3,387.0 364.1,386.0 361.2,388.6 358.1,388.2M344.3,375.6 346.6,378.0 350.7,376.5 352.3,380.4 355.6,380.7M357.2,360.6 358.4,363.7 360.4,366.4 361.2,369.6 362.4,372.6M362.4,372.6 360.4,375.6 358.0,378.2 355.6,380.7M358.1,388.2 357.7,384.2 355.6,380.7M418.9,560.0 416.9,557.5 414.0,556.0 411.9,553.6 408.3,553.1 406.3,550.5 403.9,548.4M431.6,547.4 430.5,544.3 428.5,541.5 427.1,538.5 426.7,535.0 425.0,532.2M403.9,548.4 405.6,545.9 408.8,544.8 410.1,541.8 411.5,538.9 414.6,537.8 415.8,534.7 419.3,533.9 420.7,531.1M425.0,532.2 420.7,531.1M193.1,220.7 196.2,220.4 199.0,219.1 202.0,218.5 204.9,217.9M190.2,233.1 193.3,235.1 194.5,238.8 196.8,241.4 199.1,244.0 202.5,245.6M202.5,245.6 203.5,242.6 205.4,240.1 208.2,238.3 209.7,235.6M209.7,235.6 208.5,232.3 208.3,228.8 208.7,225.2 207.7,221.9 206.2,218.7M206.2,218.7 204.9,217.9M205.1,200.9 205.2,204.3 205.7,207.7 204.8,211.1 205.1,214.5 204.9,217.9M202.4,248.0 202.5,245.6M226.5,237.5 223.1,237.6 219.7,237.4 216.5,235.7 213.0,236.5 209.7,235.6M220.1,218.0 216.6,217.6 213.2,218.7 209.7,218.3 206.2,218.7M314.8,323.7 312.4,326.2 310.0,328.5 306.7,329.7M314.8,323.7 313.2,320.8 312.7,317.2 309.9,314.9M306.7,329.7 304.0,326.5 299.4,326.7 296.3,324.2M309.9,314.9 306.3,315.4 303.9,311.2 300.1,312.3M300.1,312.3 298.6,315.1 298.4,318.3 297.5,321.3 296.3,324.2M304.9,340.6 304.9,336.9 304.9,333.2 306.7,329.7M318.7,324.3 314.8,323.7M316.9,301.6 315.7,304.4 313.4,306.6 311.9,309.2 310.2,311.7 309.9,314.9M241.8,379.8 238.1,379.4 234.6,380.6 230.9,379.6 227.4,381.1M241.8,379.8 242.8,376.6 244.8,373.7 244.4,370.0 246.4,367.2M246.4,367.2 243.6,365.4 240.5,365.3 237.3,365.5 234.6,363.5 231.3,363.8 228.6,362.1 225.5,361.9M227.4,381.1 226.2,378.0 222.8,377.0 220.8,374.6 218.8,372.2M218.8,372.2 220.8,369.8 222.3,367.1 224.1,364.7 225.5,361.9M249.1,384.7 245.5,382.1 241.8,379.8M231.3,407.1 231.8,403.7 231.1,400.5 229.7,397.4 227.9,394.3 230.4,390.6 229.0,387.5 227.5,384.4 227.4,381.1M249.8,365.4 246.4,367.2M249.8,365.4 252.1,367.8 254.5,370.1 257.0,372.3M199.4,375.1 202.8,375.4 205.8,373.5 209.0,372.8 212.5,374.0 215.6,372.8 218.8,372.2M457.8,408.0 454.5,410.2 451.7,413.0 448.9,415.8M448.9,415.8 450.8,418.8 451.8,422.4 454.8,424.6 456.2,427.9M469.9,413.5 466.3,413.5 464.1,410.3 461.3,408.5 457.8,408.0M469.9,413.5 468.3,416.5 469.2,420.2 466.4,422.9 467.7,426.7 465.5,429.5M465.5,429.5 462.4,429.2 459.4,428.2 456.2,427.9M434.9,463.4 437.9,465.9 441.1,468.0M456.7,464.1 453.4,464.2 450.5,465.7 447.3,466.3 444.5,468.2 441.1,468.0M456.7,464.1 455.8,461.1 455.9,458.0 455.5,455.0 454.7,451.9 454.7,448.8M434.9,463.4 435.2,460.1 437.3,457.5 437.8,454.3 438.7,451.2 441.0,448.6 441.0,445.2 442.2,442.2M454.7,448.8 451.7,446.9 448.3,445.7 445.4,443.7 442.2,442.2M424.0,440.8 427.1,439.7 430.3,441.3 433.5,441.4 436.5,439.9 439.7,439.9M426.7,464.0 430.8,463.1 434.9,463.4M439.7,439.9 441.9,441.4M442.2,442.2 441.9,441.4M456.2,427.9 454.4,430.8 451.2,432.2 449.4,435.0 446.8,437.0 444.6,439.5 441.9,441.4M448.9,415.8 444.7,415.9 440.6,414.7M439.7,439.9 437.8,436.7 437.4,433.2 436.5,429.9 435.7,426.5 434.1,423.3 434.7,419.6M434.7,419.6 437.8,417.3 440.6,414.7M414.9,423.2 417.5,421.2 419.7,418.7M434.7,419.6 431.0,419.0 427.2,419.0 423.5,419.2 419.7,418.7M408.0,399.6 411.7,400.7 413.0,404.8 416.2,406.7 419.1,408.7M419.1,408.7 419.2,412.1 419.0,415.4 419.7,418.7M416.5,388.5 418.8,391.3 421.0,394.3 423.8,396.7 425.8,399.7M408.0,396.5 411.3,394.4 413.4,390.8 416.5,388.5M419.1,408.7 420.8,405.3 423.3,402.5 425.8,399.7M326.6,607.8 323.5,606.6 320.6,608.7 317.5,607.6 314.5,608.3 311.5,608.0 308.5,609.0 305.6,609.6M302.6,612.0 302.7,611.7M305.6,609.6 302.7,611.7M339.9,555.0 338.1,558.6 335.5,561.7 334.1,565.5M359.6,565.9 356.6,564.7 354.1,562.6 351.5,560.6 347.9,560.4 345.4,558.3 342.6,556.8 339.9,555.0M359.6,565.9 360.7,569.4 361.7,572.9 361.6,576.6 362.2,580.2M361.8,580.6 358.5,581.7 355.0,581.7 351.4,580.7 348.3,583.2 345.0,584.0 341.6,584.2M334.1,565.5 335.4,568.6 336.0,572.0 337.6,575.0 339.6,577.8 339.8,581.3 341.6,584.2M334.7,594.9 334.6,594.2M341.6,584.2 339.9,586.7 337.5,588.8 337.0,592.2 334.6,594.2M305.6,609.6 307.3,606.9 308.2,604.0 309.6,601.2 309.2,597.9 309.6,594.8 310.8,591.9 312.2,589.2 312.7,586.1 313.6,583.2M334.6,594.2 331.7,592.5 328.1,592.0 325.2,590.3 321.8,589.6 319.7,586.1 316.6,584.8 313.6,583.2M397.8,490.8 398.2,493.3M375.1,483.6 374.5,486.6 373.7,489.6 372.9,492.5 372.2,495.4 370.5,498.1 370.0,501.1 368.7,503.9 367.6,506.8 367.8,510.0M398.2,493.3 397.4,496.4 394.7,498.7 394.8,502.3 391.8,504.3 390.7,507.4 389.3,510.2M367.8,510.0 370.9,509.6 374.0,508.9 377.0,509.6 380.1,509.0 383.2,510.0 386.3,509.6 389.3,510.2M346.7,496.3 348.6,499.0 351.6,500.5 354.3,502.3 355.2,506.1 358.5,507.4 361.2,509.2 363.1,511.9M363.1,511.9 365.5,511.7M367.8,510.0 365.5,511.7M416.5,507.8 416.7,511.2 414.2,513.9 413.5,517.1 413.1,520.3M413.1,520.3 409.6,520.9 406.2,521.8 402.7,521.9 399.2,522.7 395.6,522.2M398.2,493.3 400.7,495.5 403.3,497.7 405.3,500.4 407.8,502.7 411.4,503.5 414.2,505.3 416.5,507.8M389.3,510.2 391.0,513.2 393.8,515.5 393.3,519.6 395.6,522.2M391.2,346.9 390.3,350.5 388.5,353.9 387.8,357.6M372.7,356.8 374.9,358.9M387.8,357.6 384.5,357.5 381.4,359.0 378.2,358.6 374.9,358.9M409.7,357.1 408.2,360.5 405.1,362.4M405.1,362.4 401.9,361.8 399.0,360.1 395.6,361.1 392.5,360.6 389.4,359.8M387.8,357.6 389.4,359.8M399.1,383.9 402.2,383.6 404.7,381.4 407.3,379.7 410.5,379.8M399.1,383.9 397.5,381.0 395.3,378.6 393.5,375.8M393.5,375.8 396.6,374.3 399.5,372.8 401.7,370.0 404.6,368.3M404.6,368.3 407.1,370.6 408.2,374.1 411.1,376.1M411.1,376.1 410.5,379.8M398.3,389.4 399.1,383.9M416.5,388.5 416.6,388.4M416.6,388.4 414.0,385.9 413.2,382.2 410.5,379.8M405.1,362.4 404.6,368.3M389.4,359.8 388.7,363.5 389.2,367.1 389.7,370.8 389.3,374.4M389.3,374.4 393.5,375.8M419.9,371.3 416.7,372.4 414.2,374.9 411.1,376.1M425.5,373.6 426.1,377.8 428.3,381.4M428.3,381.4 425.8,383.8 422.4,384.8 419.8,387.2 416.6,388.4M425.0,532.2 428.4,531.4 431.3,529.8 434.0,527.7 437.1,526.3 438.9,522.6 442.7,522.5 445.6,520.8M453.6,529.6 450.8,526.8 447.6,524.4 445.6,520.8M432.8,494.6 432.5,499.7M432.8,494.6 436.0,492.9 437.5,489.4 440.4,487.2 442.7,484.5M432.5,499.7 436.0,500.7 436.2,504.8 438.6,506.8 440.8,509.0 442.9,511.3 445.4,513.3M442.7,484.5 445.9,483.9 448.9,485.3 452.0,485.9 455.1,487.2 458.3,486.3 461.4,487.4 464.7,485.8 467.7,487.4M445.4,513.3 448.4,511.6 450.8,509.2 454.4,508.6 456.4,505.6 459.7,504.4 462.1,501.9 465.0,500.2M465.0,500.2 466.1,496.5 467.2,492.7 468.4,489.0M468.4,489.0 467.7,487.4M416.3,478.5 419.5,479.9 420.3,483.8 422.9,485.9 425.6,487.8 428.3,489.7 430.9,491.8 432.8,494.6M416.5,507.8 419.9,506.5 423.7,506.0 425.9,502.5 430.0,502.6 432.5,499.7M441.1,468.0 440.8,471.4 443.0,474.5 442.4,477.9 441.6,481.3 442.7,484.5M413.1,520.3 415.1,523.0 416.8,525.8 418.8,528.4 420.7,531.1M445.6,520.8 445.5,517.0 445.4,513.3M465.0,468.5 461.8,467.8 460.1,464.3 456.7,464.1M465.0,468.5 467.0,472.4 469.4,476.1M469.4,476.1 468.1,479.8 468.4,483.6 467.7,487.4M475.8,516.1 472.6,514.4 471.8,511.1 470.3,508.2 468.9,505.3 465.7,503.6 465.0,500.2M485.6,493.2 481.8,493.9 478.6,492.0 475.3,490.6 471.7,490.4 468.4,489.0M469.4,476.1 472.6,475.8 474.4,472.4 477.5,472.0 481.0,472.3 483.1,469.5 486.1,468.8M486.1,468.8 488.8,470.5 492.1,470.9 494.6,473.2 497.9,473.7M225.4,282.4 228.5,281.9 231.6,282.2 234.6,283.6 237.6,284.1 240.7,284.6 243.8,284.0 246.9,283.8 250.0,284.3M225.4,282.4 226.1,285.5 228.0,288.0 230.1,290.3 231.5,293.0 234.1,294.9 235.1,297.9 236.6,300.5M236.6,300.5 239.2,298.9 241.6,297.0 244.6,295.9 248.0,295.9 250.2,293.4M250.2,293.4 251.1,289.4 250.9,285.3M250.0,284.3 250.9,285.3M221.3,279.3 221.2,279.2M223.9,318.4 226.9,316.5 230.1,315.1 232.8,312.6 236.5,312.2M221.3,279.3 225.4,282.4M236.5,312.2 236.2,308.3 236.2,304.4 236.6,300.5M246.3,316.0 243.1,314.4 239.9,313.2 236.5,312.2M246.3,316.0 249.6,314.7M249.6,314.7 250.8,311.7 253.6,309.6 254.1,306.2 256.6,303.9 257.1,300.5M257.1,300.5 254.2,298.7 252.6,295.7 250.2,293.4M265.6,298.9 266.8,295.3 267.2,291.5 268.4,287.9M268.4,287.9 265.0,286.9 263.6,283.6M263.6,283.6 260.5,284.6 257.2,284.0 254.2,286.2 250.9,285.3M257.1,300.5 261.3,299.4 265.6,298.9M295.9,280.7 295.7,284.4 295.7,288.1 294.0,291.5M281.1,273.6 280.6,277.0 278.8,279.9 278.2,283.2 276.2,286.0M276.2,286.0 278.8,288.1 281.6,289.8 284.3,291.7 286.5,294.2M286.5,294.2 290.3,293.0 294.0,291.5M310.1,296.2 306.5,298.7 302.4,297.3M294.0,291.5 297.2,292.8 300.0,294.8 302.4,297.3M300.1,312.3 298.8,310.3M302.4,297.3 302.0,300.7 300.0,303.6 300.1,307.2 298.8,310.3M266.8,300.3 270.0,300.8 273.7,299.2 276.3,302.7 279.7,302.6 282.8,303.5M266.8,300.3 266.7,303.4 266.3,306.4 267.2,309.4 267.9,312.4 269.1,315.3 267.9,318.4M267.9,318.4 270.0,320.3M270.0,320.3 273.8,319.8 276.1,316.8 278.7,314.2 282.2,313.5M282.2,313.5 284.2,309.6M284.2,309.6 284.2,306.4 282.8,303.5M276.2,286.0 272.4,287.5 268.4,287.9M265.6,298.9 266.8,300.3M286.5,294.2 286.1,297.6 284.0,300.4 282.8,303.5M249.6,314.7 252.8,314.7 256.0,314.6 258.7,316.8 261.8,317.3 264.8,318.1 267.9,318.4M291.4,325.8 296.3,324.2M291.4,325.8 289.7,323.3 287.2,321.3 285.6,318.6 284.4,315.7 282.2,313.5M298.8,310.3 295.1,310.1 291.5,309.7 287.8,310.5 284.2,309.6M244.6,270.1 244.0,266.8 245.1,263.7 244.5,260.5 245.3,257.3M244.6,270.1 247.0,272.3 249.9,273.6M249.9,273.6 253.3,273.4 255.7,271.1 258.2,269.1 261.5,268.7 263.8,266.4M245.3,257.3 248.0,259.5 251.3,259.8 254.2,261.6 257.4,262.2 260.8,262.4 263.7,264.0M263.7,264.0 264.1,265.9M264.1,265.9 263.8,266.4M241.2,251.5 242.5,255.0 245.3,257.3M221.3,279.3 224.4,278.5 226.7,275.8 229.8,275.2 232.5,273.5 235.5,272.6 239.0,273.0 241.2,270.1 244.6,270.1M250.0,284.3 249.8,280.7 249.2,277.2 249.9,273.6M263.6,283.6 264.4,280.2 264.6,276.8 264.2,273.3 264.6,269.9 263.8,266.4M267.0,254.0 265.6,257.2 264.2,260.5 263.7,264.0M280.5,271.4 277.0,270.9 274.0,268.9 270.7,268.0 267.4,266.9 264.1,265.9M270.0,320.3 270.1,323.0M246.3,316.0 246.1,319.7 248.1,323.0 247.0,326.8 248.4,330.2M248.4,330.2 251.8,330.9 255.4,331.4 259.0,331.5 262.3,333.3M270.1,323.0 268.2,325.6 266.8,328.6 264.4,330.9 262.3,333.3M271.0,368.9 269.7,365.9 266.9,363.7 265.5,360.7 263.6,358.0M278.7,357.4 277.1,354.7 275.3,352.2 274.7,349.1 273.6,346.1M263.6,358.0 265.5,355.3 266.1,352.0 267.2,348.9 269.1,346.2M273.6,346.1 269.1,346.2M505.9,363.5 503.5,366.6 499.9,368.3M511.6,377.9 508.3,377.7 505.0,378.0 501.7,378.4M501.7,378.4 501.6,374.9 500.0,371.8 499.9,368.3M491.4,352.9 492.4,356.3 491.8,359.8 492.7,363.1 493.0,366.5M499.9,368.3 496.3,367.9 493.0,366.5M466.8,443.3 467.7,440.2 468.9,437.2 469.3,433.9M466.8,443.3 470.3,445.4 471.1,449.3 473.0,452.5M469.3,433.9 473.1,432.4 477.1,433.0 481.1,432.9M481.1,432.9 483.2,435.7 486.0,437.9 488.0,440.8 490.0,443.6 491.8,446.6M473.0,452.5 476.2,452.7 479.3,453.2 482.5,453.5 485.7,452.8M485.7,452.8 488.3,449.3 491.8,446.6M465.5,429.5 469.3,433.9M454.7,448.8 457.3,446.5 460.5,445.5 463.9,445.1 466.8,443.3M465.0,468.5 466.4,465.2 467.7,461.8 470.0,459.0 471.4,455.7 473.0,452.5M490.1,418.3 488.0,415.4 484.6,414.0 483.5,410.1 480.2,408.5M490.1,418.3 488.4,421.3 486.6,424.2 485.0,427.3 482.9,430.0 481.1,432.9M480.2,408.5 476.7,410.0 473.3,411.8 469.9,413.5M494.0,446.5 491.8,446.6M491.0,418.3 490.1,418.3M486.1,468.8 486.7,465.6 486.1,462.4 485.8,459.2 485.2,456.0 485.7,452.8M481.2,370.4 480.2,367.5 479.7,364.4 479.7,361.3 478.9,358.3M481.2,370.4 477.5,371.1 473.9,372.1 470.7,374.1M470.7,374.1 469.6,370.4 466.6,368.1 464.9,364.8 463.0,361.8M478.9,358.3 475.8,358.7 472.7,359.6 469.5,359.1 466.4,359.6 463.3,360.1M463.3,360.1 463.0,361.8M483.3,351.6 481.6,355.3 478.9,358.3M485.2,372.5 487.5,370.2 490.4,368.5 493.0,366.5M485.2,372.5 481.2,370.4M463.0,359.4 463.3,360.1M447.4,367.2 449.8,369.6 453.2,369.8M453.2,369.8 455.1,367.1 459.1,367.1 461.1,364.5 463.0,361.8M254.0,594.8 256.9,593.3 259.7,591.4 263.5,592.3 266.4,590.8 269.3,589.1M262.9,561.6 265.7,563.1 268.3,565.0 270.9,566.8M270.9,566.8 270.3,569.9 270.6,573.1 269.7,576.3 269.5,579.5 270.1,582.7 269.3,585.9 269.3,589.1M274.3,613.7 275.6,610.6 274.7,607.2 277.5,604.5 277.3,601.1 276.1,597.6 277.9,594.7M302.7,611.7 300.8,609.3 299.1,606.8 297.9,603.9 296.0,601.6 293.2,599.8 293.1,596.1 290.1,594.5 288.3,592.1M288.3,592.1 284.8,592.9 281.5,594.4 277.9,594.7M269.3,589.1 271.1,592.7 274.4,593.8 277.9,594.7M352.7,522.4 353.0,525.9 353.7,529.3 353.0,533.0 354.5,536.3 355.3,539.7M339.3,551.1 341.4,548.5 344.3,546.9 347.6,545.9 350.5,544.3 353.3,542.5 355.3,539.7M352.7,522.4 349.4,522.2 346.1,522.7 342.8,522.8 339.5,522.6 336.2,521.8 332.9,522.8 329.6,521.9M339.3,551.1 338.0,549.9M338.0,549.9 336.6,547.0 336.0,543.7 334.9,540.7 334.6,537.4 333.4,534.3 333.6,530.9 331.4,528.1 331.0,524.8 329.6,521.9M296.1,520.6 297.1,524.9M296.1,520.6 298.3,517.6 300.5,514.5 302.7,511.5 304.8,508.4M297.1,524.9 300.0,525.8 303.0,526.5 305.2,529.0 307.5,531.2 310.6,531.8 313.4,532.7M304.8,508.4 308.2,509.6 311.7,508.7 315.2,508.0 318.6,508.8 321.9,510.5 325.5,509.9M313.4,532.7 316.0,530.8 319.3,529.9 320.9,526.7 324.1,525.6 326.3,523.3 328.7,521.2M325.5,509.9 326.8,513.6 328.3,517.3 328.7,521.2M271.8,511.7 275.0,512.3 277.7,514.3 280.7,515.5 283.4,517.6 287.4,516.1 289.7,519.2 293.0,519.7 296.1,520.6M271.9,537.0 275.2,537.7 278.5,538.5 281.8,539.6 285.4,539.0 288.5,540.5M288.5,540.5 290.6,537.6 292.8,534.7 293.4,531.0 296.2,528.4 297.1,524.9M293.3,487.5 295.8,490.1 297.4,493.1 297.6,496.8 299.2,499.9 301.8,502.3 303.1,505.5 304.8,508.4M329.1,501.5 327.9,504.3 327.6,507.5 325.5,509.9M338.0,549.9 334.9,548.0 331.4,549.6 328.1,550.4 325.0,547.3 321.7,547.8 318.4,548.1 315.1,547.8 311.9,547.7M311.9,547.7 312.1,544.7 311.5,541.6 313.1,538.7 312.0,535.6 313.4,532.7M329.6,521.9 328.7,521.2M352.7,522.4 356.1,520.5 358.4,517.7 359.9,514.0 363.1,511.9M390.5,532.7 387.1,532.5 383.7,533.4 380.3,533.2 376.9,533.4M390.5,532.7 392.4,535.1 392.4,538.6 395.0,540.7 396.0,543.6 398.7,545.5 399.5,548.6M389.5,561.0 386.7,559.3 383.6,558.1 380.6,556.6 377.6,555.2 374.4,554.5 371.4,553.0M389.5,561.0 391.2,558.3 393.3,555.9 393.9,552.3 397.0,550.7 399.5,548.6M376.9,533.4 374.8,535.9 373.5,539.1 371.1,541.4 368.8,543.7M371.4,553.0 372.6,549.3 369.7,546.8 368.8,543.7M365.5,511.7 366.3,514.8 368.1,517.3 370.1,519.7 373.1,521.5 372.5,525.3 373.2,528.4 374.9,531.0 376.9,533.4M395.6,522.2 393.2,525.4 392.8,529.5 390.5,532.7M403.9,548.4 399.5,548.6M389.7,563.4 389.5,561.0M359.6,565.9 362.5,563.8 365.0,561.4 366.0,557.6 368.2,554.8 371.4,553.0M355.3,539.7 359.2,539.0 362.1,541.4 365.4,542.6 368.8,543.7M339.9,555.0 339.3,551.1M370.9,372.5 371.3,376.1 373.5,379.3 372.2,383.2 373.6,386.6M370.9,372.5 373.7,369.9M373.7,369.9 376.8,372.0 380.9,372.0 384.3,373.4 387.5,375.3M387.5,375.3 385.9,378.5 384.4,381.8 382.5,384.8M382.5,384.8 379.6,386.1 376.7,386.6 373.6,386.6M373.5,386.7 373.6,386.6M362.4,372.6 366.6,372.8 370.9,372.5M374.9,358.9 373.6,362.5 373.3,366.2 373.7,369.9M389.3,374.4 387.5,375.3M390.2,394.2 388.3,391.8 386.5,389.4 385.2,386.6 382.5,384.8M253.8,346.3 252.9,350.2 252.5,354.1 252.4,358.1M253.8,346.3 251.2,344.3 248.1,342.9 246.1,340.0 243.0,338.8M243.0,338.8 239.8,339.4 237.4,341.7 234.6,343.1 231.5,343.9 228.5,344.9M251.5,358.8 248.2,358.1 245.3,356.7 242.5,355.1 240.9,351.2 237.3,351.0 234.5,349.5 231.6,347.8 228.7,346.5M251.5,358.8 252.4,358.1M228.5,344.9 228.7,346.5M264.0,342.4 266.7,344.1 269.1,346.2M264.0,342.4 260.7,343.9 257.6,345.9 253.8,346.3M263.6,358.0 259.9,357.9 256.1,358.0 252.4,358.1M262.3,333.3 262.6,336.4 262.4,339.6 264.0,342.4M248.4,330.2 246.8,333.2 245.3,336.2 243.0,338.8M221.0,337.1 223.9,339.3 226.1,342.3 228.5,344.9M249.8,365.4 249.8,361.9 251.5,358.8M225.5,361.9 226.3,358.8 225.8,355.5 227.7,352.7 227.9,349.5 228.7,346.5M288.8,330.5 285.4,331.1 281.8,330.1 278.4,331.3M288.8,330.5 289.3,334.5 290.9,338.1 293.0,341.5M278.4,331.3 279.1,334.8 277.4,337.8 276.3,340.9 276.2,344.2M276.2,344.2 279.7,344.2 283.1,344.1 286.5,345.6 290.1,344.8M293.0,341.5 290.1,344.8M291.4,325.8 288.8,330.5M270.1,323.0 272.3,326.4 275.4,328.8 278.4,331.3M304.2,341.3 300.5,342.0 296.8,341.5 293.0,341.5M273.6,346.1 276.2,344.2M290.8,355.7 290.3,352.1 291.2,348.4 290.1,344.8M479.7,386.8 480.6,389.8 483.0,392.0 484.0,395.0 485.7,397.5M479.7,386.8 481.6,383.4 483.9,380.3 487.1,378.0M487.1,378.0 490.3,380.0 493.5,381.8 496.8,383.6M485.7,397.5 489.1,397.3 491.9,395.4 494.4,393.0 497.9,392.8M497.9,392.8 498.8,389.6 496.7,386.8 496.8,383.6M485.2,372.5 487.1,378.0M501.7,378.4 499.4,381.1 496.8,383.6M480.2,408.5 480.2,406.6M502.3,395.8 497.9,392.8M480.2,406.6 482.2,403.6 484.7,401.0 485.7,397.5M446.2,385.0 448.7,388.3 447.1,392.3 448.1,395.8M446.2,385.0 442.7,383.3 438.8,382.6M438.8,382.6 434.2,384.0M434.2,384.0 431.6,387.3 432.6,391.1 432.0,394.7 432.1,398.3M448.1,395.8 445.2,398.5 441.9,400.8 438.5,402.9M438.5,402.9 435.1,401.0 432.1,398.3M454.8,380.2 452.9,383.5 449.5,384.1 446.2,385.0M453.2,369.8 453.5,373.3 454.5,376.7 454.8,380.2M440.3,371.2 439.2,375.0 440.7,379.0 438.8,382.6M428.3,381.4 431.5,382.1 434.2,384.0M425.8,399.7 429.2,399.9 432.1,398.3M457.8,408.0 457.5,404.0 457.4,400.0M457.4,400.0 454.5,398.2 451.6,396.3 448.1,395.8M440.6,414.7 442.0,410.4 439.5,406.8 438.5,402.9M469.9,375.8 466.7,376.4 464.1,378.4 461.8,380.8 458.7,381.6M469.9,375.8 471.6,379.2 475.0,381.8 475.0,386.1M458.7,381.6 459.6,384.8 461.7,387.6 463.1,390.6 464.2,393.7M475.0,386.1 472.1,388.5 469.5,391.3 466.6,393.9M466.6,393.9 464.2,393.7M470.7,374.1 469.9,375.8M454.8,380.2 458.7,381.6M479.7,386.8 475.0,386.1M457.4,400.0 459.3,397.6 461.7,395.7 464.2,393.7M480.2,406.6 478.7,403.7 475.8,402.2 473.9,399.7 470.6,398.7 467.8,397.2 466.6,393.9M288.8,566.5 289.9,569.6 292.3,572.0 294.3,574.7 295.1,578.0M288.8,566.5 291.4,563.7 292.3,560.0 294.7,557.0 296.4,553.7M296.4,553.7 300.1,553.0 303.9,552.6 307.6,551.8M307.6,551.8 309.3,554.5 311.7,556.6 311.7,560.3 314.1,562.5 315.7,565.1 317.9,567.4 319.5,570.1M295.1,578.0 298.3,577.8 301.0,579.8 304.2,580.0 307.3,580.4 310.3,580.9 313.2,582.4M319.5,570.1 317.1,572.7 316.6,576.3 315.1,579.5 313.2,582.4M270.9,566.8 274.5,567.1 278.1,566.9 281.6,566.0 285.2,567.2 288.8,566.5M288.3,592.1 288.7,588.9 291.0,586.5 291.9,583.4 293.9,581.0 295.1,578.0M288.5,540.5 288.6,544.0 292.9,545.1 292.5,548.9 294.1,551.6 296.4,553.7M311.9,547.7 307.6,551.8M334.1,565.5 331.6,567.8 328.6,568.2 325.3,568.1 322.7,569.9 319.5,570.1M313.6,583.2 313.2,582.4" fill="none" stroke="#f6f6f6" stroke-width="1.25"/><g fill="none" stroke="#f6f6f6" stroke-width="1.25"><path d="M271.6,103.1 277.1,126.3 296.2,139.9 293.4,159.0 304.3,167.1"/><path d="M233.5,129.0 241.7,142.6 239,153.5 258,164.4 263.5,172.6 270,180.0 276,184.0"/><path d="M171.5,123.2 175,123.5 190,126.0 205,127.0 219.9,129.0 239,123.5 249.9,118.1 271.6,103.1"/></g><path d="M427.2,493.6 439,489.1 444.5,483.6 443.6,480.0 434.5,479.1 430,475.4 429,467.3 425.4,465.4 418.1,468.2 410,472.7 405.4,477.3 401.8,486.3 398.2,491.3 386.4,492.7 387.3,499.1 386.4,502.7 386.8,509.0 390,514.5 395.4,514.5 402.7,510.9 406.3,508.1 407.2,501.8 406.4,496.1 414.5,498.1 421.8,496.3 427.2,493.6Z" fill="#c47752"/><path d="M443.6,528.4 436.5,514.1 429.4,518.9 419.9,528.4 416.3,535.5 417.5,549.8 427,547.4 434.1,540.3 443.6,528.4Z" fill="#c47752"/><path d="M175.9,487.1 173.5,490.8 177.2,492.7 177.2,495.7 171,499.4 167.3,504.4 166.1,510.5 163,516.7 166.1,522.8 169.8,527.8 178.4,526.5 183.3,524.1 188.3,520.4 194.4,521.6 196.9,525.3 206.7,530.2 217.2,534.6 212.9,538.9 208,541.3 201.8,542.6 200.6,545.0 205.5,548.7 211.7,553.6 224,554.9 235.1,553.6 243.7,551.2 244.1,549.5 251.9,543.0 251.9,544.3 251.9,544.3 255.8,552.1 258.3,558.6 260.9,559.9 267.4,553.4 270,546.9 272.6,539.1 277.8,533.9 279.7,528.7 281.5,522.8 291.2,524.0 300,520.7 295.6,511.9 289,507.5 280.1,502.0 276.8,486.5 283.4,483.2 280.1,478.8 270,483.8 265.7,484.5 263.5,476.0 260.2,474.7 253.7,475.4 249.2,476.7 244,481.2 241.4,486.4 237.5,489.0 233.6,492.2 230.4,491.0 229.7,486.4 228.4,483.8 220,483.8 204.3,483.4 198.1,479.7 192,478.5 192,473.6 188.3,468.6 174.7,473.6 175.3,477.3 175.3,481.6 178.4,484.0 175.9,487.1Z" fill="#c47752"/><path d="M289.7,644.1 291.3,630.6 293,618.8 284.6,620.5 276.2,622.2 262.7,620.5 252.6,622.2 252.6,632.3 255.9,639.1 276.2,639.1 282.9,640.8 289.7,644.1Z" fill="#c47752"/><path d="M191.9,633.2 198.6,629.0 199.4,634.0 202,639.1 204.9,640.5 207,650.9 212.1,659.3 217.2,659.3 220.5,655.9 218.8,647.5 215,640.6 220.5,642.4 223.9,639.1 223,630.6 224.1,621.0 227.3,620.5 232.3,619.7 233.2,613.8 235.7,608.7 234.9,596.9 232.3,591.0 227.3,588.5 222.2,584.3 217.2,585.1 210.4,596.9 202,596.9 193.5,601.1 186.8,606.2 185.1,612.1 187.6,620.5 186,629.0 191.9,633.2Z" fill="#c47752"/><path d="M174.7,473.6 188.3,468.6 192,473.6 192,478.5 198.1,479.7 195.7,484.0 190.7,485.9 184.6,489.6 177.2,492.7 173.5,490.8 175.9,487.1 178.4,484.0 175.3,481.6 175.3,477.3Z" fill="#d59c84"/><path d="M177.2,492.7 184.6,489.6 190.7,485.9 195.7,484.0 198.1,479.7 204.3,483.4 200.6,490.8 201.8,497.0 198.1,503.1 192,499.4 179.6,498.2 177.2,495.7Z" fill="#bd6440"/><path d="M204.3,483.4 220,483.8 228.4,483.8 229.7,486.4 230.4,491.0 233.6,492.2 228.9,494.5 224,504.4 219.1,503.1 209.2,505.6 199.4,509.3 198.1,503.1 201.8,497.0 200.6,490.8Z" fill="#bd6440"/><path d="M179.6,498.2 192,499.4 198.1,503.1 199.4,509.3 195.7,516.7 194.4,521.6 188.3,520.4 183.3,524.1 178.4,526.5 169.8,527.8 166.1,522.8 163,516.7 166.1,510.5 167.3,504.4 171,499.4 177.2,495.7Z" fill="#bd6440"/><path d="M199.4,509.3 209.2,505.6 219.1,503.1 224,504.4 220.3,509.3 217.8,517.9 216.6,529.0 215.4,533.9 206.7,530.2 196.9,525.3 194.4,521.6 195.7,516.7Z" fill="#bd6440"/><path d="M228.9,494.5 233.6,492.2 237.5,489.0 241.4,486.4 244.6,489.6 243.7,497.0 242.5,506.8 241.3,516.7 240,522.8 233.9,522.8 227.7,519.1 226.5,513.0 224,504.4Z" fill="#bd6440"/><path d="M220.3,509.3 226.5,513.0 227.7,519.1 233.9,522.8 236.5,523.5 235,533.9 233.8,537.3 224,534.5 216.6,535.2 215.4,533.9 216.6,529.0 217.8,517.9Z" fill="#bd6440"/><path d="M215.4,536.4 224,534.5 233.8,537.3 235,533.9 238.9,543.0 244.1,549.5 243.7,551.2 235.1,553.6 224,554.9 211.7,553.6 205.5,548.7 200.6,545.0 201.8,542.6 208,541.3 212.9,538.9Z" fill="#bd6440"/><path d="M241.4,486.4 244,481.2 249.2,476.7 253.7,475.4 260.2,474.7 263.5,476.0 264.7,480.6 260.9,481.2 261.5,483.8 265.4,484.5 270,483.8 280.1,478.8 283.4,483.2 276.8,486.5 280.1,502.0 272.4,504.2 263.6,499.8 254.8,497.6 253.7,488.7 244.6,489.6Z" fill="#ebd5c8"/><path d="M244.6,489.6 253.7,488.7 254.8,497.6 263.6,499.8 261.4,503.1 255.9,507.5 249.3,510.8 242.6,517.4 241.3,516.7 242.5,506.8 243.7,497.0 241.3,489.6Z" fill="#d9a088"/><path d="M242.6,517.4 249.3,510.8 255.9,507.5 261.4,503.1 263.6,499.8 272.4,504.2 280.1,502.0 289,507.5 295.6,511.9 300,520.7 291.2,524.0 282.3,522.9 277.9,521.8 271.3,524.0 269.1,532.8 264.7,529.5 261.4,531.7 258.1,524.0 252.6,519.6 245.9,521.8 240,522.8 241.3,516.7Z" fill="#d9a48c"/><path d="M236.5,523.5 240.5,522.8 245.4,526.1 249.3,536.5 251.9,543.0 244.1,549.5 238.9,543.0 235,533.9Z" fill="#9c3a0e"/><path d="M240.5,522.8 245.4,522.2 251.9,520.3 259.6,527.4 262.2,528.7 260.9,535.2 254.5,540.4 251.9,544.3 251.9,543.0 249.3,536.5 245.4,526.1Z" fill="#c3744f"/><path d="M262.2,528.7 270,533.9 272.6,539.1 270,546.9 267.4,553.4 260.9,559.9 258.3,558.6 255.8,552.1 251.9,544.3 254.5,540.4 260.9,535.2Z" fill="#bf6a44"/><path d="M271.3,522.9 281.7,522.2 279.7,528.7 277.8,533.9 272.6,539.1 270,533.9 275.2,531.3 277.8,527.4 272.6,526.1Z" fill="#c8785a"/><path d="M186.8,606.2 193.5,601.1 202,596.9 210.4,596.9 217.2,585.1 222.2,584.3 227.3,588.5 232.3,591.0 234.9,596.9 235.7,608.7 233.2,613.8 232.3,619.7 227.3,620.5 217.2,622.2 212.1,623.9 198.6,629.0 191.9,633.2 186,629.0 187.6,620.5 185.1,612.1Z" fill="#bd6440"/><path d="M198.6,629.0 212.1,623.9 215.5,623.9 213.8,634.0 215.5,640.8 208.7,642.4 202,639.1 199.4,634.0Z" fill="#ebd6cb"/><path d="M215.5,623.9 223.9,623.1 223,630.6 223.9,639.1 220.5,642.4 215.5,640.8 213.8,634.0Z" fill="#ebd6cb"/><path d="M205.3,642.4 215.5,641.6 218.8,647.5 220.5,655.9 217.2,659.3 212.1,659.3 207,650.9Z" fill="#ebd6cb"/><path d="M252.6,622.2 262.7,620.5 276.2,622.2 284.6,620.5 293,618.8 291.3,630.6 289.7,644.1 282.9,640.8 276.2,639.1 264.4,639.1 255.9,639.1 252.6,632.3Z" fill="#ebd6cb"/><path d="M386.4,492.7 398.2,491.3 401.8,486.3 405.4,477.3 410,472.7 418.1,468.2 425.4,465.4 429,467.3 430,475.4 434.5,479.1 443.6,480.0 444.5,483.6 439,489.1 427.2,493.6 421.8,496.3 414.5,498.1 407.2,496.3 402.7,496.3 396.3,498.1 387.3,499.1Z" fill="#ecd6ca"/><path d="M387.3,499.1 396.3,498.1 402.7,496.3 406.3,495.4 407.2,501.8 406.3,508.1 402.7,510.9 395.4,514.5 390,514.5 386.8,509.0 386.4,502.7Z" fill="#cd8c70"/><path d="M419.9,528.4 429.4,518.9 436.5,514.1 443.6,528.4 434.1,540.3 427,547.4 417.5,549.8 416.3,535.5Z" fill="#ecd6c8"/><g fill="none" stroke="#f6dcc8" stroke-width="0.9" stroke-linejoin="round"><path d="M174.7,473.6 188.3,468.6 192,473.6 192,478.5 198.1,479.7 195.7,484.0 190.7,485.9 184.6,489.6 177.2,492.7 173.5,490.8 175.9,487.1 178.4,484.0 175.3,481.6 175.3,477.3Z"/><path d="M177.2,492.7 184.6,489.6 190.7,485.9 195.7,484.0 198.1,479.7 204.3,483.4 200.6,490.8 201.8,497.0 198.1,503.1 192,499.4 179.6,498.2 177.2,495.7Z"/><path d="M204.3,483.4 220,483.8 228.4,483.8 229.7,486.4 230.4,491.0 233.6,492.2 228.9,494.5 224,504.4 219.1,503.1 209.2,505.6 199.4,509.3 198.1,503.1 201.8,497.0 200.6,490.8Z"/><path d="M179.6,498.2 192,499.4 198.1,503.1 199.4,509.3 195.7,516.7 194.4,521.6 188.3,520.4 183.3,524.1 178.4,526.5 169.8,527.8 166.1,522.8 163,516.7 166.1,510.5 167.3,504.4 171,499.4 177.2,495.7Z"/><path d="M199.4,509.3 209.2,505.6 219.1,503.1 224,504.4 220.3,509.3 217.8,517.9 216.6,529.0 215.4,533.9 206.7,530.2 196.9,525.3 194.4,521.6 195.7,516.7Z"/><path d="M228.9,494.5 233.6,492.2 237.5,489.0 241.4,486.4 244.6,489.6 243.7,497.0 242.5,506.8 241.3,516.7 240,522.8 233.9,522.8 227.7,519.1 226.5,513.0 224,504.4Z"/><path d="M220.3,509.3 226.5,513.0 227.7,519.1 233.9,522.8 236.5,523.5 235,533.9 233.8,537.3 224,534.5 216.6,535.2 215.4,533.9 216.6,529.0 217.8,517.9Z"/><path d="M215.4,536.4 224,534.5 233.8,537.3 235,533.9 238.9,543.0 244.1,549.5 243.7,551.2 235.1,553.6 224,554.9 211.7,553.6 205.5,548.7 200.6,545.0 201.8,542.6 208,541.3 212.9,538.9Z"/><path d="M241.4,486.4 244,481.2 249.2,476.7 253.7,475.4 260.2,474.7 263.5,476.0 264.7,480.6 260.9,481.2 261.5,483.8 265.4,484.5 270,483.8 280.1,478.8 283.4,483.2 276.8,486.5 280.1,502.0 272.4,504.2 263.6,499.8 254.8,497.6 253.7,488.7 244.6,489.6Z"/><path d="M244.6,489.6 253.7,488.7 254.8,497.6 263.6,499.8 261.4,503.1 255.9,507.5 249.3,510.8 242.6,517.4 241.3,516.7 242.5,506.8 243.7,497.0 241.3,489.6Z"/><path d="M242.6,517.4 249.3,510.8 255.9,507.5 261.4,503.1 263.6,499.8 272.4,504.2 280.1,502.0 289,507.5 295.6,511.9 300,520.7 291.2,524.0 282.3,522.9 277.9,521.8 271.3,524.0 269.1,532.8 264.7,529.5 261.4,531.7 258.1,524.0 252.6,519.6 245.9,521.8 240,522.8 241.3,516.7Z"/><path d="M236.5,523.5 240.5,522.8 245.4,526.1 249.3,536.5 251.9,543.0 244.1,549.5 238.9,543.0 235,533.9Z"/><path d="M240.5,522.8 245.4,522.2 251.9,520.3 259.6,527.4 262.2,528.7 260.9,535.2 254.5,540.4 251.9,544.3 251.9,543.0 249.3,536.5 245.4,526.1Z"/><path d="M262.2,528.7 270,533.9 272.6,539.1 270,546.9 267.4,553.4 260.9,559.9 258.3,558.6 255.8,552.1 251.9,544.3 254.5,540.4 260.9,535.2Z"/><path d="M271.3,522.9 281.7,522.2 279.7,528.7 277.8,533.9 272.6,539.1 270,533.9 275.2,531.3 277.8,527.4 272.6,526.1Z"/><path d="M186.8,606.2 193.5,601.1 202,596.9 210.4,596.9 217.2,585.1 222.2,584.3 227.3,588.5 232.3,591.0 234.9,596.9 235.7,608.7 233.2,613.8 232.3,619.7 227.3,620.5 217.2,622.2 212.1,623.9 198.6,629.0 191.9,633.2 186,629.0 187.6,620.5 185.1,612.1Z"/><path d="M198.6,629.0 212.1,623.9 215.5,623.9 213.8,634.0 215.5,640.8 208.7,642.4 202,639.1 199.4,634.0Z"/><path d="M215.5,623.9 223.9,623.1 223,630.6 223.9,639.1 220.5,642.4 215.5,640.8 213.8,634.0Z"/><path d="M205.3,642.4 215.5,641.6 218.8,647.5 220.5,655.9 217.2,659.3 212.1,659.3 207,650.9Z"/><path d="M252.6,622.2 262.7,620.5 276.2,622.2 284.6,620.5 293,618.8 291.3,630.6 289.7,644.1 282.9,640.8 276.2,639.1 264.4,639.1 255.9,639.1 252.6,632.3Z"/><path d="M386.4,492.7 398.2,491.3 401.8,486.3 405.4,477.3 410,472.7 418.1,468.2 425.4,465.4 429,467.3 430,475.4 434.5,479.1 443.6,480.0 444.5,483.6 439,489.1 427.2,493.6 421.8,496.3 414.5,498.1 407.2,496.3 402.7,496.3 396.3,498.1 387.3,499.1Z"/><path d="M387.3,499.1 396.3,498.1 402.7,496.3 406.3,495.4 407.2,501.8 406.3,508.1 402.7,510.9 395.4,514.5 390,514.5 386.8,509.0 386.4,502.7Z"/><path d="M419.9,528.4 429.4,518.9 436.5,514.1 443.6,528.4 434.1,540.3 427,547.4 417.5,549.8 416.3,535.5Z"/></g><g fill="none" stroke="#f6dcc8" stroke-width="0.9"><path d="M210.4,598.6 212.1,605.3 203.7,608.7 208.7,613.8 212.1,617.2 213.8,622.2"/><path d="M212.1,605.3 214.5,610.4 222.2,611.2 232.3,615.5"/><path d="M406.3,476.3 413.6,480.9 414.5,489.9 423.6,496.3"/><path d="M429,467.3 423.6,470.9 416.3,476.3 413.6,480.9"/><path d="M430,475.4 430.9,485.4 434.5,489.1"/></g><path d="M533.9,451.0 536.2,457.2 537.8,463.5 538.2,470.5 538.6,476.7 537,479.8 530.8,480.6 524.6,480.6 519.1,479.8 517.6,475.9 519.9,472.8 526.1,468.9 527.7,464.2 531.6,459.6 533.1,454.9Z" fill="#7f7f7f" stroke="#7f7f7f" stroke-width="1"/><g fill="#808080" stroke="#808080" stroke-width="1"><path d="M40.2,420.8 44,417.5 47.5,417.6 53.4,418.2 53.7,421.3 49,424.0 45.4,424.9 41.7,429.1 39.7,428.0Z"/><path d="M154.5,511.5 158.5,511.0 159.5,515.0 157,518.0 154,516.5Z"/><path d="M230.9,761.8 233.6,762.7 235.4,772.7 236.3,776.3 233.6,775.4 231.8,767.2Z"/><path d="M315,740.0 318.5,740.5 319,745.4 315.5,745.0Z"/><path d="M201.5,698.0 206,699.0 211.5,704.0 209,705.0 203,702.0Z"/><path d="M207.6,712.2 212.8,713.0 211,717.5 208,716.0Z"/><path d="M315,714.5 317.5,715.0 317.5,721.3 315.5,721.0Z"/><circle cx="645.7" cy="646.4" r="0.8"/><circle cx="652.1" cy="709.6" r="0.9"/><circle cx="613.1" cy="726.7" r="0.9"/><circle cx="646.7" cy="800.6" r="0.7"/><circle cx="146" cy="751" r="0.9"/><circle cx="170" cy="746" r="0.9"/></g><g fill="#c8c8c8" stroke="#7f7f7f" stroke-width="1.5" stroke-linejoin="round"><path d="M631.8,676.4 633.5,680.0 633.9,685.0 631.8,695.7 630.7,708.5 626.4,717.1 624.3,730.0 622.1,733.1 620,724.0 622.1,712.8 624.3,704.2 625.3,693.5 627.5,682.8Z"/><path d="M631.8,710.7 633.9,709.6 633.9,721.4 631.8,720.3Z"/><path d="M617.8,745.0 620.5,744.5 622.1,747.1 621.5,751.0 619,752.6 616.8,751.0 617,747.5Z"/><path d="M624.5,783.5 626.5,784.0 626,786.0 624,785.5Z"/><path d="M633.5,804.5 637,805.5 636,808.0 633.5,807.0Z"/><path d="M641,807.0 645,808.0 646,812.0 641,812.0Z"/></g><g fill="none" stroke="#808080" stroke-width="1.6" stroke-linejoin="round" stroke-linecap="round"><path d="M212.7,193.6 214.5,192.7 217.6,191.7 220.6,190.3 223.6,189.0 224.2,185.0 224.5,180.9 223.6,177.2 226.5,175.2 229.6,173.6 232.6,171.8 236.1,170.0 239.9,169.1 245.3,168.2 247.3,170.8 249,173.6 251.8,175.7 254.8,177.7 258.1,179.1 261,177.8 264,177.3 267.1,177.2 269.8,180.0 273.1,182.2 276.2,184.5 281.7,182.7 282.6,185.7 284.2,188.4"/><path d="M214.5,193.6 217.2,198.1 219.8,200.1 221.7,202.7 223.6,205.3 225.4,208.1 226.9,211.0 227.4,214.3 229,217.2 233.5,220.8 236.8,221.5 239.9,222.6 240.6,226.3 241.7,229.9 242.9,233.0 245.3,235.3 247.2,240.8 250.8,244.4 254.5,244.6 258.1,245.3 261.7,245.8 265.3,246.2"/><path d="M265.3,246.2 266.9,243.3 268.4,240.4 269,237.2 268.9,233.6 269,229.9 270.1,224.7 273.4,223.5 276.7,222.1 280.2,221.7 283.5,222.9 287.1,222.4 290.3,223.7 293.5,223.6 296.4,224.7 297.4,220.7"/><path d="M245.3,235.3 246.6,238.4 248,241.5 245.4,245.4 242.8,249.3 238.9,253.2 235.7,253.9 232.4,254.5 230.9,258.3 229.9,262.2 226.7,262.8 223.4,262.9 219.5,262.7 215.6,263.9 211.7,263.5 210.8,266.9 209.1,270.0 207.8,266.1 206,263.4 203.9,260.9 199.8,260.2 196.1,258.3 190.9,259.0 187.3,259.1 183.8,258.3 180.3,258.2 176.7,258.3"/><path d="M190.9,259.0 191.7,262.2 192.3,265.4 192.2,268.7 192.4,271.9 192.2,275.2 195.2,275.5 198.3,275.0 201.3,275.2 205.4,276.0 209.1,277.8 211.7,280.4 212.7,283.8 214.3,286.9 215.5,290.2 216.9,293.4 219,297.0 222.1,299.9 223.5,302.9 226,305.0 225.6,308.2 226.6,311.3 226.7,314.5 230.3,312.8 233.5,310.4 236.8,309.1 240.3,308.1 243.7,307.2 247.2,306.3 247.5,310.1 248.4,313.7 249.9,317.2 254,316.8 258.1,317.2 259.7,320.8 261,324.4 262.2,328.1 263.7,331.2 265,334.4 266.2,337.7 264.3,341.2 262.2,344.5 265.1,343.2 268.2,343.0 271.3,342.5 274.1,341.3 277.1,340.4 280.2,342.0 283.6,342.6 287.1,343.2 290.1,345.1 293.5,345.8 295.3,349.3 298.3,352.0 300.3,355.4 300.5,359.1 299.3,362.7 298.9,366.3 297,369.0 295.2,371.6 293.5,374.4 290.4,375.7 287.9,377.9 285.3,379.9 281.2,382.6 280.1,386.6 279.9,390.8 280.6,394.4 279.8,398.1 279.9,401.7 281.3,404.7 284,406.8 285.3,409.9 288.9,409.3 292.6,410.3 296.2,409.9 296.4,406.4 294.9,403.1 295.4,399.6 294.8,396.2 293,392.8 292.5,388.8 290.8,385.3 293.7,382.8 296.2,379.9 299.1,380.9 301.8,382.2 304.2,384.3 307.1,385.3 310.4,385.1 313.7,385.2 316.9,384.4 320.1,384.0 323.4,384.0 325.7,386.6 328.9,388.1 332.4,389.7 336.2,390.8 339.8,392.2 343.5,390.9 347.2,389.8 350.7,388.1 354.2,389.8 358,391.0 360.7,393.0 364.1,393.8 366.8,395.8 370,396.8 373.6,397.6 377.2,398.4 380.8,398.8 384.5,398.9 386.6,403.0 385.9,406.6 385.5,410.2 385.2,413.8 385.6,417.5 386.6,421.7"/><path d="M249,291.0 252.1,290.2 255,289.0 259,293.0 259,296.0 259,299.0 254,302.0 249,299.0 249.3,295.0 249,291.0"/><path d="M265.3,246.2 262.8,248.7 261.2,251.7 259,254.4 257.7,257.2 256.7,260.1 254.9,262.6 254.1,266.2 253.2,269.8 253.5,273.5 254.2,277.1 254.9,280.7 254.9,284.4 256,288.4 256.2,292.6 255.7,296.7 254.9,300.8 258.5,303.3 261.7,306.2 261,310.3 261.7,314.4 258.1,317.2"/><path d="M265.3,246.2 268.1,245.0 268.6,248.3 268,251.5 268.1,254.7 267.1,257.9 267.1,261.1 269.1,264.1 272.1,266.2 274.1,269.2 277.2,267.3 280.8,266.5 284.2,265.2 287.2,267.3 290,269.7 293.7,270.6 296.4,273.2 299.3,274.8 301.7,276.9 304.2,278.9 306.5,281.3 309.4,283.0 311.6,285.6 314.5,287.4 318.5,288.5 322.6,289.4"/><path d="M277.1,340.4 274.6,342.6 271.9,344.5 269.1,346.3 266.5,348.3 263.3,349.5 260.9,351.9 258,353.5 255.3,355.4 252.3,357.2 249.9,359.8 247.4,362.2 244.1,363.7 241.7,366.3 239.8,370.2 239,374.4 241.9,377.0 244.4,379.9 247.2,382.6 250.8,383.3 254.5,382.6 258.1,382.6 259.4,388.1 256.4,389.9 253.3,391.5 249.9,392.2 248.6,395.1 248.1,398.2 248,401.4 247.2,404.4 245.8,407.1 244.4,409.9 240.8,409.9 237.1,410.2 233.5,409.9 230.5,410.6 228.1,412.6 225.6,414.5 223.6,417.0 221.5,419.3 218.6,420.8 215.8,419.4 213.1,418.0 214.9,415.2 217.3,412.8 219.1,410.0 220.9,407.2 222.7,404.4 220.8,401.9 219.9,399.0 216.6,398.6 213.5,397.4 210.4,396.2 208.7,393.7 207.7,390.8 204.1,391.6 200.9,393.5 199.9,397.1 198.8,400.7 198.1,404.4 197.8,407.6 199.4,410.5 199.5,413.6 199.8,416.8 200.8,420.0 200.2,423.3 201,426.5 199.4,429.2 196.3,430.6 194.5,433.1 191.9,437.0 189,438.5 186.7,440.9"/><path d="M109,396.3 112,397.3 115.2,396.7 118.2,397.5 121.2,398.7 124.4,398.3 127.4,399.3 130.4,399.8 133.5,400.4 136.4,401.8 139.7,402.1 142.7,403.3 146,403.3 149,404.7 152.2,405.0 155.3,405.9 156.3,408.8 159,410.7 160,413.6 161.8,417.1 164.4,420.0 166.8,423.7 168.4,427.8 171,429.6 173.6,431.4 176.2,433.1 179.6,434.8 182,437.8 185.4,439.6 187.6,442.7 189.3,446.1 188.5,450.0 186.6,451.9 181.8,453.8 179.9,456.7 183.7,459.5 180.9,462.4 181.2,465.7 180.9,469.0 178.4,471.4 175.2,472.8 176.1,476.6 173.3,478.5 175.8,480.2 178,482.3 176.1,485.2 172.3,488.0 169.5,489.9 173.3,493.7 177.1,494.7 175.2,498.0 173.3,501.3 169.9,501.0 166.6,501.3 163.8,505.1 163.5,508.5 162.8,511.8 160.9,516.5"/><path d="M180.9,469.0 184.7,468.8 188.5,468.1 190.4,472.8 193.2,474.9 196.2,477.1 198.4,480.1 202,480.5 205.5,481.1 209,481.7 212.5,483.1 216.2,483.6 220,483.8 224.2,484.0 228.4,483.8 229.7,486.4 230.4,491.0 233.6,492.2 237.5,489.0 241.4,486.4 244,481.2 246.1,478.4 249.2,476.7 253.7,475.4 256.9,474.9 260.2,474.7 263.5,476.0 264.7,480.6 260.9,481.2 261.5,483.8 265.4,484.5 270,483.8 273.5,482.4 276.6,480.1 280.1,478.8 285.6,481.0 288.9,481.1 292.3,480.9 295.6,481.0 298.2,478.9 301.8,478.7 304.4,476.6 310,477.7 313.1,479.2 316.6,479.4 319.7,481.1 323.1,481.7 326.2,483.1 328.8,481.6 331.6,480.4 334.3,479.0 336.4,476.2 338.9,473.7 341.4,471.3"/><path d="M386.6,421.7 383.4,421.4 380.3,420.5 377.1,420.2 373.8,420.8 370.5,421.1 367.1,420.6 363.8,421.4 360.4,421.4 360.6,424.7 361.9,427.8 362.8,430.9 365.8,433.5 369.3,435.4 372.3,438.0 370.3,441.0 369.7,444.7 367.6,447.6 365.1,449.7 362.3,451.3 359.1,452.1 356.3,453.7 353.9,455.9 350.9,457.1 349.1,460.0 346.7,462.5 345.1,465.5 343.8,468.8 341.4,471.3 340.3,474.3 339,477.2 337.6,480.1 335.8,482.8 334.3,485.6 334.3,489.3 332.5,492.6 332.6,496.3 331.9,499.9 332.8,503.2 333.6,506.6 334.3,510.0 335.2,513.3 336.6,516.5 334.4,519.0 332,521.4 329.5,523.6 331.2,526.7 333.3,529.6 334.3,533.1 332.8,536.4 330.8,539.4 329.5,542.7 328,545.7 327.5,548.9 327.1,552.2"/><path d="M386.6,421.7 389.6,420.7 392.5,419.4 395,417.3 398.1,416.5 401.1,415.5 405.6,414.3 408.1,416.5 410.2,419.2 413.1,421.0 415.1,423.8 416.1,426.9 416.7,430.1 417.5,433.3 418.3,436.4 419.4,439.4 420.9,442.3 422.2,445.2 421.9,448.5 420.3,451.4 419.9,454.7 416.3,455.9 413.3,458.2 410,460.0 409,463.7 407.5,467.3 406.3,470.9 405.9,474.0 404.2,476.6 402.9,479.4 402.7,482.5 401.8,485.4 398.2,490.0 394.8,489.9 391.3,489.9 388,491.1 384.5,490.9 381.7,494.1 380,498.1 378.8,501.8 378.5,505.7 377.1,509.4 378.5,512.4 379,515.6 379.4,518.9 377,521.2 374.7,523.6 371.2,522.2 367.6,521.3 368.4,524.2 368.1,527.3 369.5,530.1 369.9,533.1 370.6,536.7 371.7,540.2 371,543.9 372.3,547.4 374.4,550.3 375,554.0 377.1,556.9 373.9,558.4 370.7,560.0 367.6,561.7 364.4,563.2 361.4,565.2 358,566.4 356.1,569.5 355.3,573.1"/><path d="M377.1,556.9 380.4,556.8 383.5,555.8 386.6,554.5 389.1,551.4 390.9,547.8 393.7,545.0 397.4,544.9 400.8,543.5 404.5,543.9 408,542.7 411.3,543.1 414.3,544.3 417.5,545.0 420.8,544.7 423.7,543.0 427,542.7 430.6,542.8 434.1,542.7"/><path d="M403.2,403.0 403.3,406.2 402.8,409.4 402.1,412.5 401.1,415.5"/><path d="M422.2,445.2 423.4,448.6 425.2,451.5 427.4,454.2 429.4,457.1 433.4,456.8 437.3,457.4 441.3,457.1 441.7,460.4 443,463.4 443.6,466.6 447.2,467.3 450.7,468.2 454.4,467.7 457.9,469.0 461.2,466.2 465,464.2 465,461.0 464.5,457.9 465,454.7 468.6,454.5 472.2,454.7 476.1,456.0 480,457.1 482.7,459.2 484.7,462.0 487.1,464.4 490.1,466.9 492.5,469.9 495.2,472.0 498,474.0 501.3,472.7 504.9,472.2 508,470.3 511.6,469.9 512.7,472.7 514.3,475.3"/><path d="M260.9,559.9 262.7,557.4 265.7,556.1 267.4,553.4 268.8,550.2 270,546.9 271.3,543.0 272.6,539.1 275.1,536.4 277.8,533.9 278.6,530.7 279.1,527.4 281.7,522.9 286.9,524.8 290.7,526.4 294.7,527.4 298.4,529.7 302.4,531.3 305.7,531.4 308.9,530.7 312.8,530.3 316.7,530.0 319.3,533.9 319.2,537.3 320.6,540.4 320.5,543.5 320.9,546.5 321.9,549.5 327.1,552.1 330.4,553.3 333.6,554.7 336.4,557.7 339,560.9 340.7,563.7 342.1,566.6 344.4,569.0 345.7,571.8 347.1,574.5 351.2,573.8 355.3,573.1"/><path d="M355.3,573.1 356.7,575.8 358,578.6 355,579.4 352.7,581.6 349.9,582.7 347.5,584.6 344.3,585.1 341.5,586.2 339,588.1 336.1,589.1 333.5,590.7 330.7,591.8 328.1,593.5 324,593.8 319.9,593.5 317.1,595.2 314.8,597.7 311.7,599.0 309.3,601.3 306.3,602.7 303.5,604.4 300.8,607.1 298.2,610.0 295.4,612.6 293.1,615.2 289.8,616.5 287.2,618.7 284.5,620.8 281.1,621.2 277.7,621.1 274.3,621.0 270.9,620.8 267.3,621.2 263.6,621.4 260,620.8"/><path d="M260.9,559.9 260.9,563.9 262.2,567.6 262.2,571.6 263.5,575.4 262.6,579.3 262.2,583.2 261.2,587.1 261.5,591.1 260.9,595.0 260.2,598.0 260.9,601.1 259.9,604.1 260,607.2 260.8,610.9 261.2,614.6 262.7,618.1 260,620.8"/><path d="M260,620.8 256.9,622.1 253.5,622.2 252.4,625.2 252.7,628.4 251.4,631.3 250.8,634.4 249.2,637.9 249.7,641.9 248,645.3 247.9,649.0 247.3,652.6 246.5,656.2 249.3,658.7 251.8,661.6 256.2,662.0 258.2,665.8 258.9,670.0 253.5,670.9 255.9,673.2 258.7,674.9 261.7,676.3 264.4,674.8 267.1,673.4 269.9,672.4 272.6,670.9 275.2,673.2 277.3,675.9 278.3,679.4 280.8,681.8 282.8,684.4 284.4,687.3 286.2,690.0"/><path d="M260.9,559.9 258.3,558.6 255.2,561.4 253.2,565.0 248,567.6 245.4,572.8 242.4,574.2 240.2,576.7 236,580.0 234.5,584.7 230.9,584.7 227.2,585.1 223.6,584.7 220.4,584.2 217.4,583.1 215.3,585.4 213.8,588.1 213.1,591.3 210.7,593.4 209.6,596.3 205.3,596.9 201,597.1 198.3,598.7 195.8,600.6 192.5,601.3 190.1,603.3 184.7,605.7 186.2,611.1 187.1,614.2 189.3,616.6 187.8,622.0 184.7,626.7 180,628.2 174.5,626.2"/><path d="M184.7,626.7 186.5,629.7 187.5,633.0 185.1,635.4 183,638.0"/><path d="M200.4,695.4 203.1,697.1 204.8,699.9 208,701.0 210,703.6 213.1,705.9 215.2,709.3 218.1,711.8 221,713.3 223.2,715.7 226,717.4 229,718.6 232,721.1 235.7,722.7 238.6,725.4 235.1,725.8 231.8,726.7 233.2,730.4 235.8,733.5 239.3,736.2 242.7,739.0 244.2,742.5 244.9,746.2 245.4,749.9 247.4,752.5 248.7,755.5 250.8,758.1 252.6,761.6 254,765.2 254.9,769.0 255.8,772.6 255.6,776.3 256.3,779.9 256.3,783.6 257.4,787.1 257.6,790.8 256.9,794.4 256.2,797.9 256.3,801.6 258.2,805.1 260.4,808.5"/><path d="M238.6,725.4 241.7,724.1 244.9,723.3 248.1,722.7 251.7,722.3 255,720.9 258.2,719.3 261.7,718.6 264.6,715.3 267.2,711.8 265.2,707.9 264.4,703.6 267.5,702.4 269.8,699.9 272.6,698.1 276.2,699.1 279.9,700.0 283.5,700.9 283.7,697.1 285.4,693.7 286.2,690.0"/><path d="M286.2,690.0 289.6,689.0 293,688.2 296.6,688.3 299.9,687.2 303.4,685.7 307.1,685.1 310.8,684.5 314.3,683.5 317.5,681.4 320.9,680.1 324.4,679.1 328.5,676.3"/><path d="M414.6,327.3 415.6,330.9 416.7,334.5 419.7,337.4 421.9,340.8 423.5,344.2 426,347.0 422.3,347.7 419.4,350.4 415.7,351.1 417.1,353.8 418.1,356.8 419.8,359.4 421,362.5 421.9,365.7 424.4,367.6 427.4,368.4 430.2,369.8 432.3,372.9 428.9,373.7 425.4,373.5 421.9,374.0 419.3,375.5 417,377.5 414.3,378.8 411.7,380.3 409.4,382.3 407,384.3 404.6,386.4 402.2,388.5 402,392.0 402.6,395.5 403.2,398.9 406.3,403.0"/><path d="M406.3,403.0 410.1,402.7 414,403.0 417.7,402.0 421.4,403.3 424.4,405.8 428.1,407.2 431.1,406.2 434.4,406.3 437.4,405.2 440.6,405.1 443.7,404.0 446.9,403.4 450,402.4 453,400.9 456,399.9 458.4,397.8 461.3,396.8 464.4,397.8 467.5,398.9 470.9,400.6 473.8,403.0 478,402.1 482.1,400.9 485.2,399.9 488.3,398.9 489,395.8 491.2,393.4 492.4,390.6 495.8,387.7 498.7,384.3 501.8,385.5 504.9,386.4 509,390.6"/><path d="M514.7,351.1 517.3,353.2 515.4,355.7 515,358.9 513.2,361.5 513.2,364.7 512.9,367.9 511.6,370.9 511.1,374.0 509.1,377.2 507,380.2 507.8,383.7 508.7,387.1 509,390.6"/><path d="M509,390.6 508.1,393.6 508.6,396.9 506.9,399.8 507,403.0 505.5,405.7 504.1,408.5 502.8,411.3 499.4,414.1 496.6,417.5 494.2,419.4 491.7,421.1 488.9,422.5 486.2,423.8 483.3,425.5 480.1,426.1 476.8,426.7 473.8,427.9 470.3,429.3 467,431.0 463.4,432.1 462.2,435.2 461.3,438.3 465,439.1 468.1,441.5 471.7,442.4 475.2,445.2 477.9,448.7 480.3,451.2 482.4,453.9 484.1,457.0 484.9,460.2 486.2,463.2 488.7,465.7 491.5,467.7 494.5,469.4 497.6,470.2 500.1,472.1 502.8,473.6"/><path d="M556.2,345.9 556.4,350.0 556.2,354.2 555,357.0 553.1,359.4"/><path d="M610.2,340.5 613.7,340.8 616.9,339.0 620.3,339.2 623.7,338.8 627,339.5 630.4,340.1 633.8,339.6 637.1,338.6 640.5,338.7 644,338.7 647.3,337.9 649.1,335.4 651.6,333.7 654.1,332.0 656.8,329.6 658.1,326.1 660.8,323.6 664.1,322.3 667.4,321.0 670.9,320.2 674.2,318.8 677.4,317.1 680.8,315.8 684.4,315.2 687.9,315.4 691.2,314.6 694.6,314.0 697.9,312.7 701.3,312.6 699.9,315.7 697.9,318.5 698.7,322.8 699.6,327.0 703,330.3 698.8,331.5 694.5,332.0 691.2,333.8 687.8,335.4 684,337.4 681,340.5 682.9,343.8 684.4,347.2"/><path d="M684.4,338.8 681.5,340.3 678.2,340.6 675.5,342.4 672.6,343.8 670.2,346.1 667.1,347.3 664.2,348.9 662.3,351.3 661.3,354.3 659.3,356.6 657.4,359.0 654.4,361.6 651.4,364.2 649,367.4 646.7,369.6 644.1,371.5 642.3,374.2 640.6,379.2 642.3,384.3 644.5,382.0 646.7,379.7 649,377.6 653.3,377.3 657.4,375.9 660.8,375.2 664.3,375.2 667.6,374.2 670.9,377.6"/><path d="M642.3,384.3 640.1,387.9 637.2,391.0 636.3,394.5 635.4,398.0 633.8,401.2 633.3,404.6 633.5,408.0 633,411.4 632.2,414.7 635.6,415.1 638.9,416.3"/><path d="M556.7,366.4 560,366.8 563.4,366.9 566.7,367.5 570,368.0 573.4,368.6 576.7,368.1 580,368.2 583.3,367.2 586.7,367.3 590,367.4 592.6,365.7 595.7,365.5 598.4,364.1 602.6,363.9 606.9,364.1 610.2,362.9 613.6,362.4 613.5,366.7 611.9,370.8 615,372.7 617.7,375.1 620.3,377.6 623,380.0 625.4,382.6 622.5,383.8 620.3,386.0"/><path d="M613.9,403.7 617,405.3 620.4,406.3 625.6,405.0 630.8,407.6 632.1,412.8"/><path d="M613.9,403.7 614.7,406.7 615,409.7 615.2,412.8 615.3,416.8 613.7,420.5 613.9,424.5"/><path d="M625.4,382.6 624.3,377.8"/></g><path d="M143.1,85.4 144.6,81.3 146.3,77.2 149.1,74.9 152.2,72.9 154.4,70.0 157.2,67.7 160.6,67.0 164.1,66.5 167.4,65.2 170.9,65.0 172.2,62.3 175.6,61.6 179,60.9 183.1,60.4 187.2,59.5 190.8,58.1 194,56.0 198.3,56.5 202.2,58.2 205.5,56.8 209,56.0 211.5,58.8 213,62.3 215,64.9 217.4,67.0 219.9,69.0 223.4,69.7 226,72.4 229.2,73.7 232.5,74.7 235.7,76.0 239,77.2 241.4,79.6 243,82.7 245,85.6 245.7,89.1 247.1,92.2 250.9,92.5 254.5,93.6 258,95.0 259.8,98.3 260.8,101.8 264.3,100.6 268,100.8 271.6,100.4 274.3,98.6 277.3,97.4 279.8,95.3 282.5,93.6 285.8,93.3 289.1,92.5 292.4,92.2 295.6,91.4 298.9,90.9 303,88.1 306.1,88.6 308.8,90.5 311.8,91.3 314.9,91.9 318,92.2 320.5,94.3 323.6,95.6 326.1,97.7 327.2,101.0 327.5,104.5 327.3,108.2 327.2,111.8 326.1,115.4 324.4,117.9 323.5,120.9 321.6,123.3 320.7,126.3 318.1,129.1 315.2,131.7 312,134.0 309.4,136.8 307.1,139.9 303.7,142.0 300,143.0 296.2,144.0 294.2,147.2 293.4,150.8 295.4,154.4 297.4,158.0 300.4,162.1 303.6,164.8 307.5,166.2 308.2,170.2 308.5,174.2 310.1,177.0 310.3,180.3 311.5,183.3 307.5,187.4 304.3,188.7 301.6,191.0 298.4,192.4 294.9,189.8 292.3,186.4 289.3,186.1 286.3,185.4 284.2,188.4 284.6,191.6 286.3,194.4 288,197.7 290.3,200.5 291.2,203.8 291.3,207.2 291.3,210.6 292.9,214.0 293.3,217.7 297.4,220.7 300.4,217.7 303,220.4 304.1,224.0 306.5,226.8 310.7,228.4 314.5,230.8 317.8,232.2 321.3,233.4 324.6,234.8 327.1,238.1 328.7,241.9 332.6,243.7 336.8,244.9 340.1,246.1 342.8,248.5 345.9,250.0 344,253.4 341.3,256.1 338.8,259.1 336.1,262.5 332.7,265.2 331,269.4 328.7,273.2 327,277.1 326.7,281.3 324.9,283.8 324.2,286.8 322.6,289.4 326.5,291.0 330.7,291.4 334,293.1 336.8,295.5 340.2,297.4 343.3,300.0 346.9,301.5 349.3,303.7 352.3,305.1 354,308.1 357,309.6 360.2,310.2 363.2,311.3 365.9,313.0 369.1,313.6 372.2,315.0 375.1,316.5 378.3,317.8 380.9,320.0 383.9,320.8 386.2,322.8 389,324.0 392.5,324.3 395.8,325.5 399.3,325.9 402.7,326.8 406.3,327.6 409.7,329.3 413.5,329.5 416.2,328.1 419,326.9 421.7,325.4 424.1,327.6 427.4,328.4 430.1,330.1 432.6,332.2 433.4,335.8 435.3,339.0 438.6,340.5 442.3,340.7 445.7,341.6 449,343.1 452.5,344.8 456,346.5 459.9,347.2 463.4,347.4 466.6,349.2 470,349.8 473.5,349.9 476.5,350.3 479.5,350.3 482.6,350.1 485.6,350.3 488.5,351.3 491.3,352.8 494.6,352.6 497.4,354.1 500.5,354.2 503.4,355.4 506.4,354.8 509.1,353.4 511.8,351.9 514.7,351.1 514.6,348.0 515.5,345.0 514.8,341.8 512.9,338.9 512.5,335.6 512.3,332.0 513.1,328.5 513.2,325.0 514.2,322.0 514.3,318.9 514.2,315.8 515,312.8 518.2,312.3 520.8,310.3 523.6,309.0 526.8,308.6 530.2,310.4 533.2,312.8 532.7,317.1 532.1,321.4 533.5,324.5 534,327.7 534.3,331.0 532.4,335.6 534.9,337.5 537.1,339.8 539.6,341.8 542.9,342.0 545.9,343.0 549,343.9 552,345.2 555.2,345.4 558.9,345.4 562.4,343.9 566.1,342.8 569.7,341.3 575,342.3 578.7,342.7 582.4,342.7 586.2,342.1 589.9,342.8 593.1,341.8 596.3,341.5 599.6,342.6 602.8,341.7 607.1,340.9 611.3,339.6 610.9,335.7 609.2,332.1 607.4,329.1 607,325.7 604.3,324.1 601.3,322.9 598.5,321.4 597.4,316.1 600.9,316.9 604.4,316.8 607.9,317.6 611.3,317.3 614,314.9 617.3,314.5 620.6,313.8 623.6,312.4 626.6,310.7 629,308.3 631.4,305.8 633.6,303.4 635.7,300.8 637.8,298.3 639.3,295.3 642.4,294.3 645.6,294.0 648.9,293.5 652,292.7 655,291.4 657.1,288.3 659.7,285.6 661.5,282.3 664.9,280.5 667.7,278.0 670.7,275.7 673.2,277.6 676,279.0 678.5,280.9 682.4,281.0 686.4,281.1 690.3,280.9 693.2,277.8 696.9,275.7 700.9,274.6 704.7,273.1 707.5,276.3 711.3,278.3 710,282.2 709.9,286.2 715.2,288.8 714.2,292.0 714.1,295.4 712.9,298.6 712.6,301.9 716.1,301.6 719.5,300.9 723,300.6 726,302.7 729.8,303.3 732.7,305.8 736.1,307.1 736.8,311.1 736.1,315.0 732.6,316.6 729.2,318.5 725.7,320.2 725.4,323.6 724.3,326.8 726.3,330.0 728.7,332.9 730.9,335.9 727.5,334.0 724.2,331.9 720.4,330.7 716.9,331.1 713.4,331.4 709.9,330.7 706.5,331.9 702.9,332.2 699.5,333.3 697.1,335.3 694.5,336.9 691.3,337.5 688.9,339.4 686.4,341.2 685.6,344.7 684.1,348.0 683.8,351.6 683.6,354.7 682.7,357.7 682.9,360.8 682.2,363.8 681.2,366.8 681.2,369.9 678.2,371.4 675.6,373.4 673.4,376.0 670.7,377.8 670.6,381.1 671,384.4 671.2,387.6 670.7,390.9 669.7,395.9 668.4,399.2 666.6,402.2 665.3,405.5 664.5,408.9 662.9,411.9 661.3,414.8 660.9,418.3 659.3,421.2 655.9,420.7 652.8,419.3 648.9,418.7 645,418.0 641.1,420.6 641.4,424.1 641.5,427.5 641.1,431.0 640.6,434.2 639.7,437.4 639.2,440.7 638.6,443.9 634.7,447.8 635.3,451.3 634.8,455.0 635,458.6 636,462.1 633.7,464.9 631.7,468.1 628.8,470.5 624.9,468.8 621.7,466.0 621.7,462.8 620,459.9 620.4,456.6 619.7,453.5 619.1,450.4 618,447.0 617.8,443.4 616.5,440.0 615.3,437.0 614.9,433.9 614.9,430.7 613.7,427.7 613.9,424.5 610,425.8 607.6,428.8 606.1,432.3 604.9,436.6 602.9,440.7 600.9,443.1 598.3,444.6 595.1,443.5 592.5,441.3 591.7,438.0 590.6,434.9 589.4,431.5 588.6,427.9 587.3,424.5 588.2,421.6 588.6,418.6 591.2,417.0 593.2,414.7 597.4,413.7 601,411.5 604.3,409.8 607.4,407.6 612.6,406.3 613.5,402.9 615.2,399.8 613.9,394.0 617.8,390.8 614.3,390.0 610.7,389.5 607.4,388.2 604.1,388.6 600.9,387.6 597.8,386.9 594.5,386.9 591.2,387.3 588,387.0 584.7,386.8 581.5,386.1 578.3,386.3 575,386.2 571.9,385.8 568.7,385.4 565.5,385.8 562.4,385.4 559.4,383.9 556.2,383.3 556.2,378.1 559.3,375.0 558.3,374.0 558.4,370.3 557.3,366.7 555.1,363.9 554.1,360.5 552.1,361.5 550,365.7 544.8,363.6 540.7,359.4 538.6,356.3 535.5,353.2 533.4,358.4 529.2,355.8 525.1,353.2 523,354.2 519.4,358.4 517,361.2 515.8,364.6 515.2,369.8 518.4,372.7 522,375.0 524.9,376.1 527.2,378.1 531.3,378.1 534.4,382.3 536.5,384.3 533.4,385.4 530.3,386.4 525.1,387.4 523,390.6 519.8,392.5 516.8,394.7 514.7,400.0 515.3,403.7 517.1,407.0 520.4,409.0 523.5,411.3 524.8,414.2 525.9,417.3 527.8,419.9 527.4,424.2 527.8,428.5 528.2,431.6 530,434.1 531,437.0 532.2,440.0 534.3,442.5 535.3,445.6 535.2,448.8 535.4,452.0 535.9,455.2 536.4,458.4 536.6,461.7 537.9,464.8 537.4,468.2 538.5,471.3 538,474.9 534.8,476.4 532.5,479.0 528.8,478.8 525.3,479.9 521.7,480.4 519.2,478.0 516.2,476.3 514.6,473.0 513.5,469.5 510.3,471.8 508,474.9 505,475.8 502.7,477.9 500.1,479.6 497.1,480.4 494.4,481.8 491.7,483.0 489,484.4 487.7,487.5 487.2,490.8 486.2,494.0 488.9,497.0 490.3,500.8 486.2,503.5 484.4,506.0 484.1,509.3 482.2,511.7 479.5,513.4 477.7,516.2 475.2,518.0 472.6,519.9 469.7,520.9 467.4,523.2 464.7,524.6 461.7,525.6 459,527.0 456.1,528.5 453.3,530.2 450.7,532.2 447.8,533.6 445.4,536.0 442.7,538.5 439.5,540.5 437.6,544.0 434.5,546.0 432,548.7 428.9,550.6 426.2,553.0 424.4,555.5 421.8,557.4 419.9,559.8 418,562.2 415.3,564.1 412.3,565.6 409.8,567.9 407.3,570.1 404.4,571.8 401.8,573.8 398.7,575.2 395.9,577.0 393.8,579.8 390.8,581.3 387.8,582.9 384.9,584.8 382.6,587.4 379.9,589.5 377.8,592.8 375.8,596.3 375.5,600.4 374.4,604.4 371.7,605.7 369,607.1 366.3,608.5 362.6,609.7 359.3,611.9 355.4,612.6 352.2,614.8 349.9,618.0 347.2,620.8 344.6,623.0 341.8,624.9 337.8,623.8 333.6,623.5 331.3,626.2 329.1,629.0 326.8,631.7 325.2,635.2 324.7,639.2 322.7,642.6 323,646.0 323.5,649.4 323,652.9 324,656.2 324.2,659.3 326,662.0 326.5,665.0 325.7,670.9 326.7,674.5 328.1,678.0 328.5,681.8 328.2,685.2 327.3,688.6 326.9,691.9 327.1,695.4 325.3,698.2 323.7,701.0 321.7,703.6 321,707.0 319.3,710.1 317.8,713.2 317.8,716.8 316.2,719.9 316.1,723.3 317.6,726.6 317.7,730.1 317.6,733.5 318.3,736.6 317.8,739.8 318.6,742.8 318.9,746.0 318.9,749.1 318.7,752.1 319.5,755.2 318.9,758.2 314.9,757.4 310.8,757.3 308,760.9 304.4,763.6 302.3,766.0 300.4,768.7 298,770.9 297.5,774.6 296.2,778.1 300.3,779.5 304.4,780.9 308,784.5 304.6,783.7 301.3,782.9 298,781.8 294.9,783.0 291.6,784.0 288.6,785.7 285.3,786.3 283.2,789.3 280.4,791.6 278.1,794.5 277.3,797.5 276.9,800.6 276.3,803.6 273.6,805.0 271.3,807.1 269,809.0 265.6,809.6 262.6,811.2 258.4,810.0 254.5,808.1 252.5,805.4 250.3,802.8 248.1,800.2 245.4,798.1 243.3,795.1 241.5,791.9 240.5,788.3 238.1,785.4 236.5,781.9 236.4,777.9 234.5,774.5 234.2,771.3 232.2,768.6 231.8,765.4 229.9,761.9 229,758.0 227.2,754.5 225.8,751.7 224.5,748.9 224.4,745.6 222.8,742.9 221.8,740.0 220.9,736.9 218.7,734.4 217.8,731.3 216.9,728.2 215.4,725.4 213.1,723.1 211.7,720.2 210.7,717.1 209.4,714.2 207.2,711.8 206.5,708.3 203.9,705.5 203.1,702.0 202.1,698.5 200.4,695.4 199.5,692.2 198.9,689.0 197.3,686.0 196.2,682.8 195.3,679.6 195,676.3 192.7,673.2 191.7,669.4 190,666.0 188.9,662.7 187.9,659.4 186.7,656.2 184.9,652.7 183.6,649.1 182.7,645.3 180.9,641.8 180.4,637.9 178.6,634.4 177.9,631.3 176.4,628.7 173.9,626.5 173.1,623.5 171.1,620.1 171,616.0 169,612.6 167.6,609.0 166.7,605.2 165,601.7 163.8,598.1 163.1,594.4 162.2,590.8 161.2,587.7 160.1,584.7 159.3,581.6 158.1,578.6 156.5,575.1 156.6,571.3 155.4,567.7 155.6,564.6 154.2,561.6 154.3,558.5 154,555.4 153.7,552.3 152.5,549.3 151.5,546.3 151.3,543.2 150.1,540.2 150,537.0 148.6,534.1 148.6,530.9 148.6,527.6 147.5,524.6 148.6,521.2 149.1,517.7 149.4,514.1 150.9,510.3 151.4,506.3 150.9,502.3 150.1,498.4 148.7,494.5 147.5,490.6 147.2,487.1 146.6,483.6 146.1,480.1 150,477.5 144.2,477.5 144.7,474.2 144.3,470.9 143.3,467.7 143.5,464.4 146.7,464.1 149.7,463.0 152.7,461.8 149.6,461.4 146.6,461.3 143.5,461.8 139.6,459.9 138.4,463.5 137,467.1 135.7,469.7 134.8,472.8 134.6,475.9 134.6,479.1 134.3,482.2 134.4,485.4 130.9,487.7 127.8,490.6 125.3,492.3 122.4,493.4 120,495.2 116,496.8 111.7,497.1 109.1,498.7 106.3,499.9 103.5,501.2 100.5,500.5 98,498.7 95.5,497.0 92.7,495.8 90.1,493.4 87,491.6 84.5,489.0 82.7,486.2 80.1,484.3 77.5,482.3 75.6,479.7 73.2,477.5 70.9,475.3 68.8,473.1 66.4,471.1 64.9,468.2 62.3,466.4 60,464.4 58.6,459.0 62.7,459.0 68.1,460.4 71.8,459.3 75.5,458.0 79,456.3 82.4,455.2 84.8,452.3 88.3,451.4 91.3,449.5 93,445.5 94,441.3 91.5,443.6 88.6,445.4 85,446.4 81.5,447.9 77.7,448.1 74.5,447.9 71.5,446.9 68.3,446.7 65.4,445.4 62.5,444.6 60,442.6 57,442.0 51.6,440.0 50.6,435.3 48,431.1 47.5,425.9 45.4,424.9 41.7,429.1 39.7,428.0 40,424.4 40.2,420.8 44,417.5 47.5,417.6 53.4,418.2 53.6,413.8 53.7,409.3 57.3,410.2 60.9,409.8 64.5,410.6 68.1,410.0 71.4,410.5 74.6,411.0 78,410.1 81.2,411.2 84.5,411.3 88,410.6 91.1,408.6 94.9,408.8 98.1,407.2 101.2,406.3 104.4,406.3 107.6,405.9 107.6,402.6 108.5,399.5 109,396.3 107.3,393.5 104.8,391.3 103.5,388.2 102.8,385.2 100.7,382.8 99.5,380.0 98.8,377.0 98.1,374.0 94,372.6 91.3,370.6 88.4,369.1 85.8,367.1 86.2,363.0 87.2,359.0 86.7,354.9 85.8,350.8 81.8,350.0 77.7,349.4 75.2,347.4 73.4,344.6 70.9,342.6 71.5,338.9 72,335.2 73.6,331.7 75.6,328.7 77.6,325.8 80.4,323.5 82.2,320.0 85.2,317.4 87.2,314.0 90.5,312.5 94,311.3 98.1,314.0 99.7,317.1 102.2,319.5 105.7,318.4 109,316.7 112.4,315.5 116.2,316.3 119.7,315.7 123.1,313.9 126.7,314.0 129.9,311.7 132.2,308.6 133.5,305.8 134.9,303.1 136.9,300.8 137.3,297.5 139,295.0 141.7,292.3 144.4,289.5 147.5,288.4 150,286.4 152.5,284.4 155.3,282.7 157.3,280.3 158.5,277.5 159.6,274.6 160.8,271.8 161.6,268.2 163.7,265.1 164.8,261.6 166.2,258.2 168.7,256.4 171.6,255.4 170.9,255.3 173.2,252.9 176.3,251.7 178.2,248.1 180,244.4 182,241.0 184.7,238.3 187.2,235.3 189.5,233.1 191.4,230.5 193.6,228.1 190.9,226.3 191.5,222.6 192.7,219.0 192.5,216.0 192,212.9 191.8,209.9 193.9,207.4 195.4,204.5 198.8,203.0 202.4,202.1 205.4,199.9 208.4,199.2 210.8,197.2 212.7,193.6 210.1,191.9 207.2,190.9 203,190.3 199,189.0 194.5,186.3 193.5,182.8 193.6,179.1 189.6,177.6 185.4,177.2 181.9,175.9 178.2,175.4 175.4,173.4 172.3,171.9 169.5,169.9 167.8,166.4 167,162.5 165.4,159.0 165.8,155.6 166.2,152.2 166.6,148.7 166.8,145.3 166.8,141.9 165.6,138.5 165.4,135.1 165.4,131.7 168.3,129.5 170.7,126.7 173,123.9 175,120.8 177.2,117.0 180.4,114.0 176.6,111.8 173.6,108.6 171.9,104.6 170.9,100.4 167.8,98.9 165,97.0 161.6,96.0 158.9,93.8 155.9,92.2 152.2,92.4 148.6,91.9 145,90.9Z" fill="none" stroke="#7c7c7c" stroke-width="1.7" stroke-linejoin="round"/>
</svg>
<div class="t">DNA J2b Hatkar density interactive map</div>
</body></html>
